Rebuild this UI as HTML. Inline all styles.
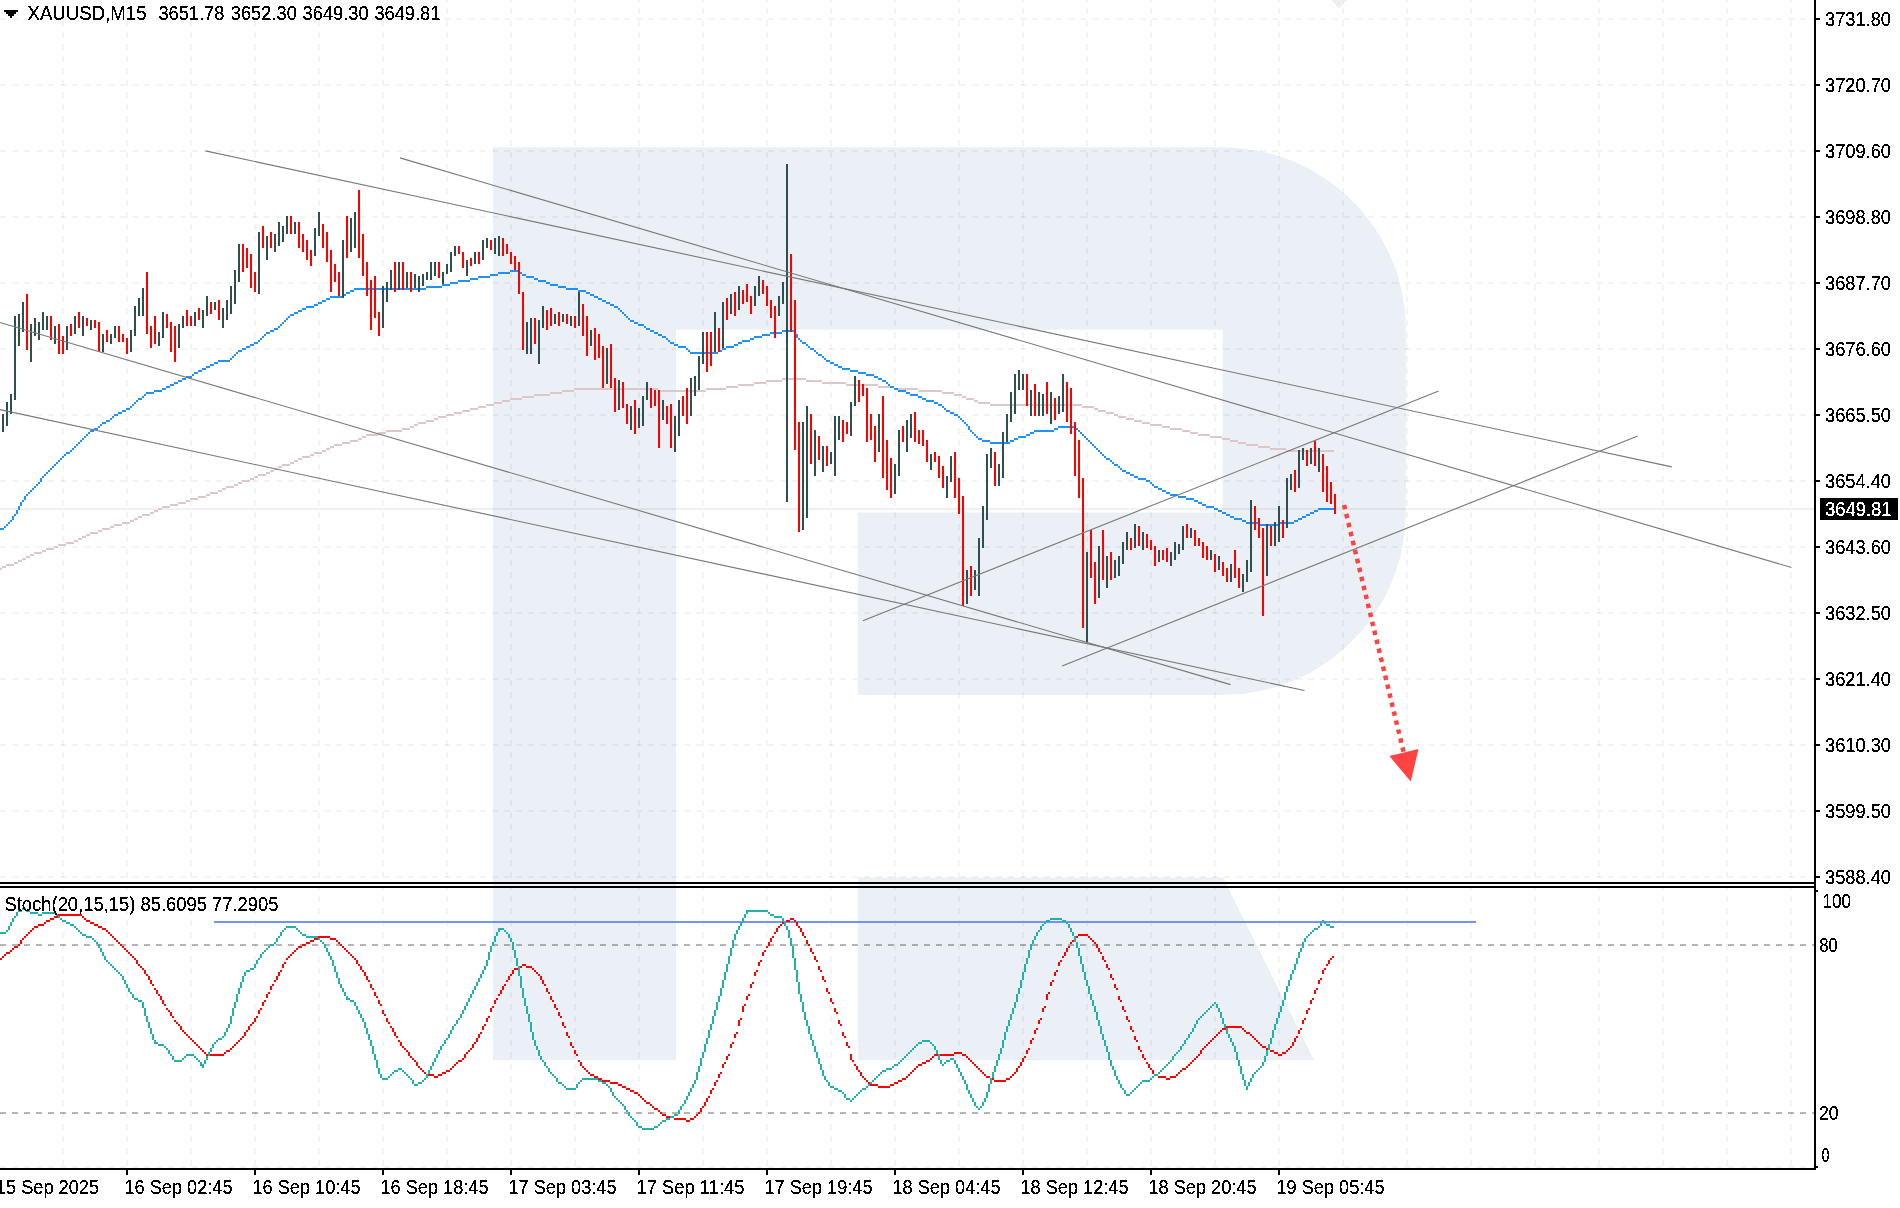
<!DOCTYPE html><html><head><meta charset="utf-8"><title>XAUUSD,M15</title><style>html,body{margin:0;padding:0;background:#fff;width:1900px;height:1208px;overflow:hidden}svg{display:block}</style></head><body>
<svg width="1900" height="1208" viewBox="0 0 1900 1208" shape-rendering="crispEdges">
<rect x="0" y="0" width="1900" height="1208" fill="#fff"/>
<defs><clipPath id="cm"><rect x="0" y="0" width="1814" height="882"/></clipPath><filter id="crisp" x="-5%" y="-20%" width="110%" height="140%"><feComponentTransfer><feFuncA type="discrete" tableValues="0 0 0 1 1 1 1 1"/></feComponentTransfer></filter><clipPath id="cs"><rect x="0" y="888" width="1814" height="280"/></clipPath></defs>
<path d="M493,147.2 H1222 A184,182.6 0 0 1 1406,329.8 V511 A184,184 0 0 1 1222,695 H858 V512.6 H1222.5 V329.8 H676 V1060.2 H493 Z M858,877.6 H1223 L1314,1060.2 H858 Z" fill="#ebf0f7" shape-rendering="geometricPrecision"/>
<g stroke="#000" stroke-opacity="0.045" stroke-width="2" stroke-dasharray="6 6"><line x1="63" y1="0" x2="63" y2="882" stroke-dashoffset="4"/><line x1="63" y1="888" x2="63" y2="1168" stroke-dashoffset="4"/><line x1="127" y1="0" x2="127" y2="882" stroke-dashoffset="4"/><line x1="127" y1="888" x2="127" y2="1168" stroke-dashoffset="4"/><line x1="191" y1="0" x2="191" y2="882" stroke-dashoffset="4"/><line x1="191" y1="888" x2="191" y2="1168" stroke-dashoffset="4"/><line x1="255" y1="0" x2="255" y2="882" stroke-dashoffset="4"/><line x1="255" y1="888" x2="255" y2="1168" stroke-dashoffset="4"/><line x1="319" y1="0" x2="319" y2="882" stroke-dashoffset="4"/><line x1="319" y1="888" x2="319" y2="1168" stroke-dashoffset="4"/><line x1="383" y1="0" x2="383" y2="882" stroke-dashoffset="4"/><line x1="383" y1="888" x2="383" y2="1168" stroke-dashoffset="4"/><line x1="447" y1="0" x2="447" y2="882" stroke-dashoffset="4"/><line x1="447" y1="888" x2="447" y2="1168" stroke-dashoffset="4"/><line x1="511" y1="0" x2="511" y2="882" stroke-dashoffset="4"/><line x1="511" y1="888" x2="511" y2="1168" stroke-dashoffset="4"/><line x1="575" y1="0" x2="575" y2="882" stroke-dashoffset="4"/><line x1="575" y1="888" x2="575" y2="1168" stroke-dashoffset="4"/><line x1="639" y1="0" x2="639" y2="882" stroke-dashoffset="4"/><line x1="639" y1="888" x2="639" y2="1168" stroke-dashoffset="4"/><line x1="703" y1="0" x2="703" y2="882" stroke-dashoffset="4"/><line x1="703" y1="888" x2="703" y2="1168" stroke-dashoffset="4"/><line x1="767" y1="0" x2="767" y2="882" stroke-dashoffset="4"/><line x1="767" y1="888" x2="767" y2="1168" stroke-dashoffset="4"/><line x1="831" y1="0" x2="831" y2="882" stroke-dashoffset="4"/><line x1="831" y1="888" x2="831" y2="1168" stroke-dashoffset="4"/><line x1="895" y1="0" x2="895" y2="882" stroke-dashoffset="4"/><line x1="895" y1="888" x2="895" y2="1168" stroke-dashoffset="4"/><line x1="959" y1="0" x2="959" y2="882" stroke-dashoffset="4"/><line x1="959" y1="888" x2="959" y2="1168" stroke-dashoffset="4"/><line x1="1023" y1="0" x2="1023" y2="882" stroke-dashoffset="4"/><line x1="1023" y1="888" x2="1023" y2="1168" stroke-dashoffset="4"/><line x1="1087" y1="0" x2="1087" y2="882" stroke-dashoffset="4"/><line x1="1087" y1="888" x2="1087" y2="1168" stroke-dashoffset="4"/><line x1="1151" y1="0" x2="1151" y2="882" stroke-dashoffset="4"/><line x1="1151" y1="888" x2="1151" y2="1168" stroke-dashoffset="4"/><line x1="1215" y1="0" x2="1215" y2="882" stroke-dashoffset="4"/><line x1="1215" y1="888" x2="1215" y2="1168" stroke-dashoffset="4"/><line x1="1279" y1="0" x2="1279" y2="882" stroke-dashoffset="4"/><line x1="1279" y1="888" x2="1279" y2="1168" stroke-dashoffset="4"/><line x1="1343" y1="0" x2="1343" y2="882" stroke-dashoffset="4"/><line x1="1343" y1="888" x2="1343" y2="1168" stroke-dashoffset="4"/><line x1="1407" y1="0" x2="1407" y2="882" stroke-dashoffset="4"/><line x1="1407" y1="888" x2="1407" y2="1168" stroke-dashoffset="4"/><line x1="1471" y1="0" x2="1471" y2="882" stroke-dashoffset="4"/><line x1="1471" y1="888" x2="1471" y2="1168" stroke-dashoffset="4"/><line x1="1535" y1="0" x2="1535" y2="882" stroke-dashoffset="4"/><line x1="1535" y1="888" x2="1535" y2="1168" stroke-dashoffset="4"/><line x1="1599" y1="0" x2="1599" y2="882" stroke-dashoffset="4"/><line x1="1599" y1="888" x2="1599" y2="1168" stroke-dashoffset="4"/><line x1="1663" y1="0" x2="1663" y2="882" stroke-dashoffset="4"/><line x1="1663" y1="888" x2="1663" y2="1168" stroke-dashoffset="4"/><line x1="1727" y1="0" x2="1727" y2="882" stroke-dashoffset="4"/><line x1="1727" y1="888" x2="1727" y2="1168" stroke-dashoffset="4"/><line x1="1791" y1="0" x2="1791" y2="882" stroke-dashoffset="4"/><line x1="1791" y1="888" x2="1791" y2="1168" stroke-dashoffset="4"/><line x1="0" y1="19" x2="1814" y2="19"/><line x1="0" y1="85" x2="1814" y2="85"/><line x1="0" y1="151" x2="1814" y2="151"/><line x1="0" y1="217" x2="1814" y2="217"/><line x1="0" y1="283" x2="1814" y2="283"/><line x1="0" y1="349" x2="1814" y2="349"/><line x1="0" y1="415" x2="1814" y2="415"/><line x1="0" y1="481" x2="1814" y2="481"/><line x1="0" y1="547" x2="1814" y2="547"/><line x1="0" y1="613" x2="1814" y2="613"/><line x1="0" y1="679" x2="1814" y2="679"/><line x1="0" y1="745" x2="1814" y2="745"/><line x1="0" y1="811" x2="1814" y2="811"/><line x1="0" y1="877" x2="1814" y2="877"/><line x1="0" y1="1167" x2="1814" y2="1167"/></g>
<g stroke="#000" stroke-opacity="0.29" stroke-width="2" stroke-dasharray="6 6"><line x1="0" y1="945" x2="1814" y2="945"/><line x1="0" y1="1113" x2="1814" y2="1113"/></g>
<line x1="0" y1="509" x2="1814" y2="509" stroke="#000" stroke-opacity="0.06" stroke-width="2"/>
<g clip-path="url(#cm)">
<path d="M-2,568h2v2h-2zM0,568h2v2h-2zM2,566h2v2h-2zM4,566h2v2h-2zM6,564h2v2h-2zM8,564h2v2h-2zM10,564h2v2h-2zM12,564h2v2h-2zM14,562h2v2h-2zM16,562h2v2h-2zM18,560h2v2h-2zM20,560h2v2h-2zM22,558h2v2h-2zM24,558h2v2h-2zM26,556h2v2h-2zM28,556h2v2h-2zM30,554h2v2h-2zM32,554h2v2h-2zM34,552h2v2h-2zM36,552h2v2h-2zM38,552h2v2h-2zM40,552h2v2h-2zM42,550h2v2h-2zM44,550h2v2h-2zM46,548h2v2h-2zM48,548h2v2h-2zM50,548h2v2h-2zM52,548h2v2h-2zM54,546h2v2h-2zM56,546h2v2h-2zM58,544h2v2h-2zM60,544h2v2h-2zM62,544h2v2h-2zM64,544h2v2h-2zM66,542h2v2h-2zM68,542h2v2h-2zM70,542h2v2h-2zM72,542h2v2h-2zM74,540h2v2h-2zM76,540h2v2h-2zM78,538h2v2h-2zM80,538h2v2h-2zM82,536h2v2h-2zM84,536h2v2h-2zM86,534h2v2h-2zM88,534h2v2h-2zM90,532h2v2h-2zM92,532h2v2h-2zM94,532h2v2h-2zM96,532h2v2h-2zM98,530h2v2h-2zM100,530h2v2h-2zM102,528h2v2h-2zM104,528h2v2h-2zM106,528h2v2h-2zM108,528h2v2h-2zM110,526h2v2h-2zM112,526h2v2h-2zM114,524h2v2h-2zM116,524h2v2h-2zM118,524h2v2h-2zM120,524h2v2h-2zM122,522h2v2h-2zM124,522h2v2h-2zM126,522h2v2h-2zM128,522h2v2h-2zM130,520h2v2h-2zM132,520h2v2h-2zM134,518h2v2h-2zM136,518h2v2h-2zM138,516h2v2h-2zM140,516h2v2h-2zM142,514h2v2h-2zM144,514h2v2h-2zM146,514h2v2h-2zM148,514h2v2h-2zM150,512h2v2h-2zM152,512h2v2h-2zM154,510h2v2h-2zM156,510h2v2h-2zM158,508h2v2h-2zM160,508h2v2h-2zM162,506h2v2h-2zM164,506h2v2h-2zM166,506h2v2h-2zM168,506h2v2h-2zM170,504h2v2h-2zM172,504h2v2h-2zM174,504h2v2h-2zM176,504h2v2h-2zM178,502h2v2h-2zM180,502h2v2h-2zM182,502h2v2h-2zM184,502h2v2h-2zM186,500h2v2h-2zM188,500h2v2h-2zM190,498h2v2h-2zM192,498h2v2h-2zM194,498h2v2h-2zM196,498h2v2h-2zM198,496h2v2h-2zM200,496h2v2h-2zM202,496h2v2h-2zM204,496h2v2h-2zM206,494h2v2h-2zM208,494h2v2h-2zM210,492h2v2h-2zM212,492h2v2h-2zM214,492h2v2h-2zM216,492h2v2h-2zM218,490h2v2h-2zM220,490h2v2h-2zM222,488h2v2h-2zM224,488h2v2h-2zM226,486h2v2h-2zM228,486h2v2h-2zM230,486h2v2h-2zM232,486h2v2h-2zM234,484h2v2h-2zM236,484h2v2h-2zM238,482h2v2h-2zM240,482h2v2h-2zM242,480h2v2h-2zM244,480h2v2h-2zM246,480h2v2h-2zM248,480h2v2h-2zM250,478h2v2h-2zM252,478h2v2h-2zM254,476h2v2h-2zM256,476h2v2h-2zM258,474h2v2h-2zM260,474h2v2h-2zM262,474h2v2h-2zM264,474h2v2h-2zM266,472h2v2h-2zM268,472h2v2h-2zM270,470h2v2h-2zM272,470h2v2h-2zM274,468h2v2h-2zM276,468h2v2h-2zM278,466h2v2h-2zM280,466h2v2h-2zM282,464h2v2h-2zM284,464h2v2h-2zM286,464h2v2h-2zM288,464h2v2h-2zM290,462h2v2h-2zM292,462h2v2h-2zM294,460h2v2h-2zM296,460h2v2h-2zM298,458h2v2h-2zM300,458h2v2h-2zM302,456h2v2h-2zM304,456h2v2h-2zM306,456h2v2h-2zM308,456h2v2h-2zM310,454h2v2h-2zM312,454h2v2h-2zM314,452h2v2h-2zM316,452h2v2h-2zM318,452h2v2h-2zM320,452h2v2h-2zM322,450h2v2h-2zM324,450h2v2h-2zM326,448h2v2h-2zM328,448h2v2h-2zM330,446h2v2h-2zM332,446h2v2h-2zM334,444h2v2h-2zM336,444h2v2h-2zM338,444h2v2h-2zM340,444h2v2h-2zM342,442h2v2h-2zM344,442h2v2h-2zM346,442h2v2h-2zM348,442h2v2h-2zM350,440h2v2h-2zM352,440h2v2h-2zM354,440h2v2h-2zM356,440h2v2h-2zM358,438h2v2h-2zM360,438h2v2h-2zM362,436h2v2h-2zM364,436h2v2h-2zM366,434h2v2h-2zM368,434h2v2h-2zM370,434h2v2h-2zM372,434h2v2h-2zM374,434h2v2h-2zM376,434h2v2h-2zM378,432h2v2h-2zM380,432h2v2h-2zM382,432h2v2h-2zM384,432h2v2h-2zM386,430h2v2h-2zM388,430h2v2h-2zM390,430h2v2h-2zM392,430h2v2h-2zM394,430h2v2h-2zM396,430h2v2h-2zM398,430h2v2h-2zM400,430h2v2h-2zM402,428h2v2h-2zM404,428h2v2h-2zM406,428h2v2h-2zM408,428h2v2h-2zM410,426h2v2h-2zM412,426h2v2h-2zM414,424h2v2h-2zM416,424h2v2h-2zM418,422h2v2h-2zM420,422h2v2h-2zM422,422h2v2h-2zM424,422h2v2h-2zM426,420h2v2h-2zM428,420h2v2h-2zM430,420h2v2h-2zM432,420h2v2h-2zM434,418h2v2h-2zM436,418h2v2h-2zM438,416h2v2h-2zM440,416h2v2h-2zM442,416h2v2h-2zM444,416h2v2h-2zM446,414h2v2h-2zM448,414h2v2h-2zM450,414h2v2h-2zM452,414h2v2h-2zM454,412h2v2h-2zM456,412h2v2h-2zM458,412h2v2h-2zM460,412h2v2h-2zM462,410h2v2h-2zM464,410h2v2h-2zM466,410h2v2h-2zM468,410h2v2h-2zM470,408h2v2h-2zM472,408h2v2h-2zM474,408h2v2h-2zM476,408h2v2h-2zM478,406h2v2h-2zM480,406h2v2h-2zM482,406h2v2h-2zM484,406h2v2h-2zM486,404h2v2h-2zM488,404h2v2h-2zM490,404h2v2h-2zM492,404h2v2h-2zM494,402h2v2h-2zM496,402h2v2h-2zM498,402h2v2h-2zM500,402h2v2h-2zM502,400h2v2h-2zM504,400h2v2h-2zM506,400h2v2h-2zM508,400h2v2h-2zM510,398h2v2h-2zM512,398h2v2h-2zM514,398h2v2h-2zM516,398h2v2h-2zM518,398h2v2h-2zM520,398h2v2h-2zM522,396h2v2h-2zM524,396h2v2h-2zM526,396h2v2h-2zM528,396h2v2h-2zM530,396h2v2h-2zM532,396h2v2h-2zM534,394h2v2h-2zM536,394h2v2h-2zM538,394h2v2h-2zM540,394h2v2h-2zM542,394h2v2h-2zM544,394h2v2h-2zM546,394h2v2h-2zM548,394h2v2h-2zM550,392h2v2h-2zM552,392h2v2h-2zM554,392h2v2h-2zM556,392h2v2h-2zM558,392h2v2h-2zM560,392h2v2h-2zM562,390h2v2h-2zM564,390h2v2h-2zM566,390h2v2h-2zM568,390h2v2h-2zM570,390h2v2h-2zM572,390h2v2h-2zM574,388h2v2h-2zM576,388h2v2h-2zM578,388h2v2h-2zM580,388h2v2h-2zM582,388h2v2h-2zM584,388h2v2h-2zM586,388h2v2h-2zM588,388h2v2h-2zM590,388h2v2h-2zM592,388h2v2h-2zM594,388h2v2h-2zM596,388h2v2h-2zM598,388h2v2h-2zM600,388h2v2h-2zM602,388h2v2h-2zM604,388h2v2h-2zM606,388h2v2h-2zM608,388h2v2h-2zM610,388h2v2h-2zM612,388h2v2h-2zM614,388h2v2h-2zM616,388h2v2h-2zM618,388h2v2h-2zM620,388h2v2h-2zM622,388h2v2h-2zM624,388h2v2h-2zM626,388h2v2h-2zM628,388h2v2h-2zM630,388h2v2h-2zM632,388h2v2h-2zM634,388h2v2h-2zM636,388h2v2h-2zM638,388h2v2h-2zM640,388h2v2h-2zM642,388h2v2h-2zM644,388h2v2h-2zM646,388h2v2h-2zM648,388h2v2h-2zM650,388h2v2h-2zM652,388h2v2h-2zM654,388h2v2h-2zM656,388h2v2h-2zM658,390h2v2h-2zM660,390h2v2h-2zM662,390h2v2h-2zM664,390h2v2h-2zM666,390h2v2h-2zM668,390h2v2h-2zM670,390h2v2h-2zM672,390h2v2h-2zM674,390h2v2h-2zM676,390h2v2h-2zM678,390h2v2h-2zM680,390h2v2h-2zM682,390h2v2h-2zM684,390h2v2h-2zM686,390h2v2h-2zM688,390h2v2h-2zM690,390h2v2h-2zM692,390h2v2h-2zM694,390h2v2h-2zM696,390h2v2h-2zM698,390h2v2h-2zM700,390h2v2h-2zM702,390h2v2h-2zM704,390h2v2h-2zM706,388h2v2h-2zM708,388h2v2h-2zM710,388h2v2h-2zM712,388h2v2h-2zM714,388h2v2h-2zM716,388h2v2h-2zM718,388h2v2h-2zM720,388h2v2h-2zM722,388h2v2h-2zM724,388h2v2h-2zM726,386h2v2h-2zM728,386h2v2h-2zM730,386h2v2h-2zM732,386h2v2h-2zM734,386h2v2h-2zM736,386h2v2h-2zM738,384h2v2h-2zM740,384h2v2h-2zM742,384h2v2h-2zM744,384h2v2h-2zM746,384h2v2h-2zM748,384h2v2h-2zM750,384h2v2h-2zM752,384h2v2h-2zM754,382h2v2h-2zM756,382h2v2h-2zM758,382h2v2h-2zM760,382h2v2h-2zM762,382h2v2h-2zM764,382h2v2h-2zM766,380h2v2h-2zM768,380h2v2h-2zM770,380h2v2h-2zM772,380h2v2h-2zM774,380h2v2h-2zM776,380h2v2h-2zM778,380h2v2h-2zM780,380h2v2h-2zM782,378h2v2h-2zM784,378h2v2h-2zM786,378h2v2h-2zM788,378h2v2h-2zM790,378h2v2h-2zM792,378h2v2h-2zM794,378h2v2h-2zM796,378h2v2h-2zM798,378h2v2h-2zM800,378h2v2h-2zM802,378h2v2h-2zM804,378h2v2h-2zM806,380h2v2h-2zM808,380h2v2h-2zM810,380h2v2h-2zM812,380h2v2h-2zM814,380h2v2h-2zM816,380h2v2h-2zM818,380h2v2h-2zM820,380h2v2h-2zM822,382h2v2h-2zM824,382h2v2h-2zM826,382h2v2h-2zM828,382h2v2h-2zM830,382h2v2h-2zM832,382h2v2h-2zM834,382h2v2h-2zM836,382h2v2h-2zM838,382h2v2h-2zM840,382h2v2h-2zM842,382h2v2h-2zM844,382h2v2h-2zM846,384h2v2h-2zM848,384h2v2h-2zM850,384h2v2h-2zM852,384h2v2h-2zM854,384h2v2h-2zM856,384h2v2h-2zM858,384h2v2h-2zM860,384h2v2h-2zM862,384h2v2h-2zM864,384h2v2h-2zM866,384h2v2h-2zM868,384h2v2h-2zM870,384h2v2h-2zM872,384h2v2h-2zM874,384h2v2h-2zM876,384h2v2h-2zM878,386h2v2h-2zM880,386h2v2h-2zM882,386h2v2h-2zM884,386h2v2h-2zM886,386h2v2h-2zM888,386h2v2h-2zM890,386h2v2h-2zM892,386h2v2h-2zM894,388h2v2h-2zM896,388h2v2h-2zM898,388h2v2h-2zM900,388h2v2h-2zM902,388h2v2h-2zM904,388h2v2h-2zM906,388h2v2h-2zM908,388h2v2h-2zM910,388h2v2h-2zM912,388h2v2h-2zM914,388h2v2h-2zM916,388h2v2h-2zM918,390h2v2h-2zM920,390h2v2h-2zM922,390h2v2h-2zM924,390h2v2h-2zM926,390h2v2h-2zM928,390h2v2h-2zM930,390h2v2h-2zM932,390h2v2h-2zM934,390h2v2h-2zM936,390h2v2h-2zM938,390h2v2h-2zM940,390h2v2h-2zM942,392h2v2h-2zM944,392h2v2h-2zM946,392h2v2h-2zM948,392h2v2h-2zM950,392h2v2h-2zM952,392h2v2h-2zM954,394h2v2h-2zM956,394h2v2h-2zM958,394h2v2h-2zM960,394h2v2h-2zM962,396h2v2h-2zM964,396h2v2h-2zM966,398h2v2h-2zM968,398h2v2h-2zM970,398h2v2h-2zM972,398h2v2h-2zM974,400h2v2h-2zM976,400h2v2h-2zM978,402h2v2h-2zM980,402h2v2h-2zM982,402h2v2h-2zM984,402h2v2h-2zM986,402h2v2h-2zM988,402h2v2h-2zM990,404h2v2h-2zM992,404h2v2h-2zM994,404h2v2h-2zM996,404h2v2h-2zM998,404h2v2h-2zM1000,404h2v2h-2zM1002,404h2v2h-2zM1004,404h2v2h-2zM1006,404h2v2h-2zM1008,404h2v2h-2zM1010,404h2v2h-2zM1012,404h2v2h-2zM1014,404h2v2h-2zM1016,404h2v2h-2zM1018,404h2v2h-2zM1020,404h2v2h-2zM1022,404h2v2h-2zM1024,404h2v2h-2zM1026,404h2v2h-2zM1028,404h2v2h-2zM1030,404h2v2h-2zM1032,404h2v2h-2zM1034,404h2v2h-2zM1036,404h2v2h-2zM1038,404h2v2h-2zM1040,404h2v2h-2zM1042,404h2v2h-2zM1044,404h2v2h-2zM1046,404h2v2h-2zM1048,404h2v2h-2zM1050,404h2v2h-2zM1052,404h2v2h-2zM1054,404h2v2h-2zM1056,404h2v2h-2zM1058,404h2v2h-2zM1060,404h2v2h-2zM1062,404h2v2h-2zM1064,404h2v2h-2zM1066,404h2v2h-2zM1068,404h2v2h-2zM1070,404h2v2h-2zM1072,404h2v2h-2zM1074,404h2v2h-2zM1076,404h2v2h-2zM1078,404h2v2h-2zM1080,404h2v2h-2zM1082,406h2v2h-2zM1084,406h2v2h-2zM1086,406h2v2h-2zM1088,406h2v2h-2zM1090,406h2v2h-2zM1092,406h2v2h-2zM1094,408h2v2h-2zM1096,408h2v2h-2zM1098,410h2v2h-2zM1100,410h2v2h-2zM1102,410h2v2h-2zM1104,410h2v2h-2zM1106,412h2v2h-2zM1108,412h2v2h-2zM1110,412h2v2h-2zM1112,412h2v2h-2zM1114,414h2v2h-2zM1116,414h2v2h-2zM1118,416h2v2h-2zM1120,416h2v2h-2zM1122,416h2v2h-2zM1124,416h2v2h-2zM1126,418h2v2h-2zM1128,418h2v2h-2zM1130,418h2v2h-2zM1132,418h2v2h-2zM1134,420h2v2h-2zM1136,420h2v2h-2zM1138,420h2v2h-2zM1140,420h2v2h-2zM1142,422h2v2h-2zM1144,422h2v2h-2zM1146,422h2v2h-2zM1148,422h2v2h-2zM1150,424h2v2h-2zM1152,424h2v2h-2zM1154,424h2v2h-2zM1156,424h2v2h-2zM1158,424h2v2h-2zM1160,424h2v2h-2zM1162,426h2v2h-2zM1164,426h2v2h-2zM1166,426h2v2h-2zM1168,426h2v2h-2zM1170,428h2v2h-2zM1172,428h2v2h-2zM1174,428h2v2h-2zM1176,428h2v2h-2zM1178,428h2v2h-2zM1180,428h2v2h-2zM1182,430h2v2h-2zM1184,430h2v2h-2zM1186,430h2v2h-2zM1188,430h2v2h-2zM1190,432h2v2h-2zM1192,432h2v2h-2zM1194,432h2v2h-2zM1196,432h2v2h-2zM1198,434h2v2h-2zM1200,434h2v2h-2zM1202,434h2v2h-2zM1204,434h2v2h-2zM1206,434h2v2h-2zM1208,434h2v2h-2zM1210,436h2v2h-2zM1212,436h2v2h-2zM1214,436h2v2h-2zM1216,436h2v2h-2zM1218,436h2v2h-2zM1220,436h2v2h-2zM1222,438h2v2h-2zM1224,438h2v2h-2zM1226,438h2v2h-2zM1228,438h2v2h-2zM1230,440h2v2h-2zM1232,440h2v2h-2zM1234,440h2v2h-2zM1236,440h2v2h-2zM1238,442h2v2h-2zM1240,442h2v2h-2zM1242,442h2v2h-2zM1244,442h2v2h-2zM1246,444h2v2h-2zM1248,444h2v2h-2zM1250,444h2v2h-2zM1252,444h2v2h-2zM1254,444h2v2h-2zM1256,444h2v2h-2zM1258,446h2v2h-2zM1260,446h2v2h-2zM1262,446h2v2h-2zM1264,446h2v2h-2zM1266,446h2v2h-2zM1268,446h2v2h-2zM1270,448h2v2h-2zM1272,448h2v2h-2zM1274,448h2v2h-2zM1276,448h2v2h-2zM1278,448h2v2h-2zM1280,448h2v2h-2zM1282,448h2v2h-2zM1284,448h2v2h-2zM1286,450h2v2h-2zM1288,450h2v2h-2zM1290,450h2v2h-2zM1292,450h2v2h-2zM1294,450h2v2h-2zM1296,450h2v2h-2zM1298,450h2v2h-2zM1300,450h2v2h-2zM1302,450h2v2h-2zM1304,450h2v2h-2zM1306,450h2v2h-2zM1308,450h2v2h-2zM1310,450h2v2h-2zM1312,450h2v2h-2zM1314,450h2v2h-2zM1316,450h2v2h-2zM1318,450h2v2h-2zM1320,450h2v2h-2zM1322,450h2v2h-2zM1324,450h2v2h-2zM1326,450h2v2h-2zM1328,450h2v2h-2zM1330,450h2v2h-2zM1332,450h2v2h-2z" fill="#dcc8c8"/>
<path d="M-2,528h2v2h-2zM0,528h2v2h-2zM2,528h2v2h-2zM4,526h2v2h-2zM6,524h2v2h-2zM8,522h2v2h-2zM10,520h2v2h-2zM12,516h2v4h-2zM14,514h2v2h-2zM16,510h2v4h-2zM18,506h2v4h-2zM20,502h2v4h-2zM22,500h2v2h-2zM24,496h2v4h-2zM26,494h2v2h-2zM28,492h2v2h-2zM30,490h2v2h-2zM32,488h2v2h-2zM34,486h2v2h-2zM36,484h2v2h-2zM38,482h2v2h-2zM40,478h2v4h-2zM42,476h2v2h-2zM44,474h2v2h-2zM46,472h2v2h-2zM48,470h2v2h-2zM50,468h2v2h-2zM52,466h2v2h-2zM54,464h2v2h-2zM56,462h2v2h-2zM58,460h2v2h-2zM60,458h2v2h-2zM62,456h2v2h-2zM64,454h2v2h-2zM66,452h2v2h-2zM68,452h2v2h-2zM70,450h2v2h-2zM72,448h2v2h-2zM74,446h2v2h-2zM76,444h2v2h-2zM78,442h2v2h-2zM80,440h2v2h-2zM82,438h2v2h-2zM84,436h2v2h-2zM86,434h2v2h-2zM88,432h2v2h-2zM90,430h2v2h-2zM92,430h2v2h-2zM94,428h2v2h-2zM96,428h2v2h-2zM98,426h2v2h-2zM100,424h2v2h-2zM102,422h2v2h-2zM104,422h2v2h-2zM106,420h2v2h-2zM108,420h2v2h-2zM110,418h2v2h-2zM112,416h2v2h-2zM114,414h2v2h-2zM116,414h2v2h-2zM118,412h2v2h-2zM120,412h2v2h-2zM122,410h2v2h-2zM124,410h2v2h-2zM126,408h2v2h-2zM128,408h2v2h-2zM130,406h2v2h-2zM132,404h2v2h-2zM134,402h2v2h-2zM136,400h2v2h-2zM138,398h2v2h-2zM140,398h2v2h-2zM142,396h2v2h-2zM144,394h2v2h-2zM146,392h2v2h-2zM148,392h2v2h-2zM150,392h2v2h-2zM152,392h2v2h-2zM154,390h2v2h-2zM156,390h2v2h-2zM158,390h2v2h-2zM160,390h2v2h-2zM162,388h2v2h-2zM164,388h2v2h-2zM166,386h2v2h-2zM168,386h2v2h-2zM170,384h2v2h-2zM172,384h2v2h-2zM174,382h2v2h-2zM176,382h2v2h-2zM178,380h2v2h-2zM180,380h2v2h-2zM182,378h2v2h-2zM184,378h2v2h-2zM186,376h2v2h-2zM188,376h2v2h-2zM190,376h2v2h-2zM192,374h2v2h-2zM194,372h2v2h-2zM196,372h2v2h-2zM198,370h2v2h-2zM200,370h2v2h-2zM202,368h2v2h-2zM204,368h2v2h-2zM206,366h2v2h-2zM208,366h2v2h-2zM210,364h2v2h-2zM212,364h2v2h-2zM214,362h2v2h-2zM216,362h2v2h-2zM218,360h2v2h-2zM220,360h2v2h-2zM222,360h2v2h-2zM224,360h2v2h-2zM226,360h2v2h-2zM228,360h2v2h-2zM230,358h2v2h-2zM232,356h2v2h-2zM234,354h2v2h-2zM236,352h2v2h-2zM238,350h2v2h-2zM240,350h2v2h-2zM242,348h2v2h-2zM244,348h2v2h-2zM246,346h2v2h-2zM248,346h2v2h-2zM250,344h2v2h-2zM252,344h2v2h-2zM254,342h2v2h-2zM256,342h2v2h-2zM258,340h2v2h-2zM260,338h2v2h-2zM262,336h2v2h-2zM264,334h2v2h-2zM266,332h2v2h-2zM268,332h2v2h-2zM270,330h2v2h-2zM272,330h2v2h-2zM274,328h2v2h-2zM276,328h2v2h-2zM278,326h2v2h-2zM280,324h2v2h-2zM282,322h2v2h-2zM284,320h2v2h-2zM286,318h2v2h-2zM288,316h2v2h-2zM290,314h2v2h-2zM292,314h2v2h-2zM294,312h2v2h-2zM296,312h2v2h-2zM298,310h2v2h-2zM300,310h2v2h-2zM302,308h2v2h-2zM304,308h2v2h-2zM306,306h2v2h-2zM308,306h2v2h-2zM310,306h2v2h-2zM312,306h2v2h-2zM314,304h2v2h-2zM316,304h2v2h-2zM318,302h2v2h-2zM320,302h2v2h-2zM322,300h2v2h-2zM324,300h2v2h-2zM326,298h2v2h-2zM328,298h2v2h-2zM330,296h2v2h-2zM332,296h2v2h-2zM334,296h2v2h-2zM336,296h2v2h-2zM338,296h2v2h-2zM340,296h2v2h-2zM342,294h2v2h-2zM344,294h2v2h-2zM346,292h2v2h-2zM348,292h2v2h-2zM350,290h2v2h-2zM352,290h2v2h-2zM354,288h2v2h-2zM356,288h2v2h-2zM358,288h2v2h-2zM360,288h2v2h-2zM362,288h2v2h-2zM364,288h2v2h-2zM366,288h2v2h-2zM368,288h2v2h-2zM370,288h2v2h-2zM372,288h2v2h-2zM374,288h2v2h-2zM376,288h2v2h-2zM378,288h2v2h-2zM380,288h2v2h-2zM382,288h2v2h-2zM384,288h2v2h-2zM386,288h2v2h-2zM388,288h2v2h-2zM390,288h2v2h-2zM392,288h2v2h-2zM394,288h2v2h-2zM396,288h2v2h-2zM398,288h2v2h-2zM400,288h2v2h-2zM402,288h2v2h-2zM404,288h2v2h-2zM406,288h2v2h-2zM408,288h2v2h-2zM410,288h2v2h-2zM412,288h2v2h-2zM414,288h2v2h-2zM416,288h2v2h-2zM418,288h2v2h-2zM420,288h2v2h-2zM422,288h2v2h-2zM424,288h2v2h-2zM426,286h2v2h-2zM428,286h2v2h-2zM430,286h2v2h-2zM432,286h2v2h-2zM434,286h2v2h-2zM436,286h2v2h-2zM438,286h2v2h-2zM440,286h2v2h-2zM442,284h2v2h-2zM444,284h2v2h-2zM446,284h2v2h-2zM448,284h2v2h-2zM450,282h2v2h-2zM452,282h2v2h-2zM454,282h2v2h-2zM456,282h2v2h-2zM458,280h2v2h-2zM460,280h2v2h-2zM462,280h2v2h-2zM464,280h2v2h-2zM466,280h2v2h-2zM468,280h2v2h-2zM470,278h2v2h-2zM472,278h2v2h-2zM474,278h2v2h-2zM476,278h2v2h-2zM478,276h2v2h-2zM480,276h2v2h-2zM482,276h2v2h-2zM484,276h2v2h-2zM486,276h2v2h-2zM488,276h2v2h-2zM490,274h2v2h-2zM492,274h2v2h-2zM494,274h2v2h-2zM496,274h2v2h-2zM498,272h2v2h-2zM500,272h2v2h-2zM502,272h2v2h-2zM504,272h2v2h-2zM506,272h2v2h-2zM508,272h2v2h-2zM510,270h2v2h-2zM512,270h2v2h-2zM514,270h2v2h-2zM516,270h2v2h-2zM518,272h2v2h-2zM520,272h2v2h-2zM522,274h2v2h-2zM524,274h2v2h-2zM526,276h2v2h-2zM528,276h2v2h-2zM530,276h2v2h-2zM532,276h2v2h-2zM534,278h2v2h-2zM536,278h2v2h-2zM538,280h2v2h-2zM540,280h2v2h-2zM542,280h2v2h-2zM544,280h2v2h-2zM546,282h2v2h-2zM548,282h2v2h-2zM550,284h2v2h-2zM552,284h2v2h-2zM554,284h2v2h-2zM556,284h2v2h-2zM558,286h2v2h-2zM560,286h2v2h-2zM562,286h2v2h-2zM564,286h2v2h-2zM566,288h2v2h-2zM568,288h2v2h-2zM570,288h2v2h-2zM572,288h2v2h-2zM574,288h2v2h-2zM576,288h2v2h-2zM578,290h2v2h-2zM580,290h2v2h-2zM582,290h2v2h-2zM584,290h2v2h-2zM586,292h2v2h-2zM588,292h2v2h-2zM590,294h2v2h-2zM592,294h2v2h-2zM594,296h2v2h-2zM596,296h2v2h-2zM598,298h2v2h-2zM600,298h2v2h-2zM602,300h2v2h-2zM604,300h2v2h-2zM606,302h2v2h-2zM608,302h2v2h-2zM610,304h2v2h-2zM612,304h2v2h-2zM614,306h2v2h-2zM616,306h2v2h-2zM618,308h2v2h-2zM620,310h2v2h-2zM622,312h2v2h-2zM624,314h2v2h-2zM626,316h2v2h-2zM628,318h2v2h-2zM630,320h2v2h-2zM632,320h2v2h-2zM634,322h2v2h-2zM636,322h2v2h-2zM638,324h2v2h-2zM640,324h2v2h-2zM642,324h2v2h-2zM644,326h2v2h-2zM646,328h2v2h-2zM648,328h2v2h-2zM650,330h2v2h-2zM652,330h2v2h-2zM654,332h2v2h-2zM656,332h2v2h-2zM658,334h2v2h-2zM660,334h2v2h-2zM662,336h2v2h-2zM664,336h2v2h-2zM666,338h2v2h-2zM668,340h2v2h-2zM670,342h2v2h-2zM672,342h2v2h-2zM674,344h2v2h-2zM676,344h2v2h-2zM678,346h2v2h-2zM680,346h2v2h-2zM682,346h2v2h-2zM684,346h2v2h-2zM686,348h2v2h-2zM688,350h2v2h-2zM690,352h2v2h-2zM692,352h2v2h-2zM694,352h2v2h-2zM696,352h2v2h-2zM698,352h2v2h-2zM700,352h2v2h-2zM702,352h2v2h-2zM704,352h2v2h-2zM706,352h2v2h-2zM708,352h2v2h-2zM710,352h2v2h-2zM712,352h2v2h-2zM714,352h2v2h-2zM716,352h2v2h-2zM718,350h2v2h-2zM720,350h2v2h-2zM722,348h2v2h-2zM724,348h2v2h-2zM726,346h2v2h-2zM728,346h2v2h-2zM730,346h2v2h-2zM732,346h2v2h-2zM734,344h2v2h-2zM736,344h2v2h-2zM738,342h2v2h-2zM740,342h2v2h-2zM742,340h2v2h-2zM744,340h2v2h-2zM746,340h2v2h-2zM748,340h2v2h-2zM750,338h2v2h-2zM752,338h2v2h-2zM754,336h2v2h-2zM756,336h2v2h-2zM758,336h2v2h-2zM760,336h2v2h-2zM762,334h2v2h-2zM764,334h2v2h-2zM766,334h2v2h-2zM768,334h2v2h-2zM770,332h2v2h-2zM772,332h2v2h-2zM774,332h2v2h-2zM776,332h2v2h-2zM778,332h2v2h-2zM780,332h2v2h-2zM782,330h2v2h-2zM784,330h2v2h-2zM786,330h2v2h-2zM788,330h2v2h-2zM790,330h2v2h-2zM792,330h2v2h-2zM794,332h2v2h-2zM796,334h2v4h-2zM798,338h2v2h-2zM800,340h2v2h-2zM802,342h2v2h-2zM804,342h2v2h-2zM806,344h2v2h-2zM808,346h2v2h-2zM810,348h2v2h-2zM812,348h2v2h-2zM814,350h2v2h-2zM816,352h2v2h-2zM818,354h2v2h-2zM820,354h2v2h-2zM822,356h2v2h-2zM824,358h2v2h-2zM826,360h2v2h-2zM828,360h2v2h-2zM830,362h2v2h-2zM832,362h2v2h-2zM834,364h2v2h-2zM836,364h2v2h-2zM838,366h2v2h-2zM840,366h2v2h-2zM842,368h2v2h-2zM844,368h2v2h-2zM846,368h2v2h-2zM848,368h2v2h-2zM850,370h2v2h-2zM852,370h2v2h-2zM854,370h2v2h-2zM856,370h2v2h-2zM858,372h2v2h-2zM860,372h2v2h-2zM862,372h2v2h-2zM864,372h2v2h-2zM866,374h2v2h-2zM868,374h2v2h-2zM870,374h2v2h-2zM872,374h2v2h-2zM874,376h2v2h-2zM876,376h2v2h-2zM878,378h2v2h-2zM880,378h2v2h-2zM882,380h2v2h-2zM884,380h2v2h-2zM886,382h2v2h-2zM888,384h2v2h-2zM890,386h2v2h-2zM892,386h2v2h-2zM894,388h2v2h-2zM896,388h2v2h-2zM898,390h2v2h-2zM900,390h2v2h-2zM902,390h2v2h-2zM904,390h2v2h-2zM906,392h2v2h-2zM908,392h2v2h-2zM910,394h2v2h-2zM912,394h2v2h-2zM914,394h2v2h-2zM916,394h2v2h-2zM918,396h2v2h-2zM920,396h2v2h-2zM922,398h2v2h-2zM924,398h2v2h-2zM926,400h2v2h-2zM928,400h2v2h-2zM930,400h2v2h-2zM932,400h2v2h-2zM934,402h2v2h-2zM936,402h2v2h-2zM938,404h2v2h-2zM940,404h2v2h-2zM942,406h2v2h-2zM944,408h2v2h-2zM946,410h2v2h-2zM948,410h2v2h-2zM950,412h2v2h-2zM952,412h2v2h-2zM954,414h2v2h-2zM956,414h2v2h-2zM958,416h2v2h-2zM960,418h2v2h-2zM962,420h2v2h-2zM964,422h2v2h-2zM966,424h2v2h-2zM968,426h2v4h-2zM970,430h2v2h-2zM972,432h2v2h-2zM974,434h2v2h-2zM976,436h2v2h-2zM978,438h2v2h-2zM980,438h2v2h-2zM982,440h2v2h-2zM984,440h2v2h-2zM986,440h2v2h-2zM988,440h2v2h-2zM990,442h2v2h-2zM992,442h2v2h-2zM994,442h2v2h-2zM996,442h2v2h-2zM998,442h2v2h-2zM1000,442h2v2h-2zM1002,442h2v2h-2zM1004,442h2v2h-2zM1006,442h2v2h-2zM1008,442h2v2h-2zM1010,440h2v2h-2zM1012,440h2v2h-2zM1014,438h2v2h-2zM1016,438h2v2h-2zM1018,436h2v2h-2zM1020,436h2v2h-2zM1022,436h2v2h-2zM1024,436h2v2h-2zM1026,434h2v2h-2zM1028,434h2v2h-2zM1030,432h2v2h-2zM1032,432h2v2h-2zM1034,430h2v2h-2zM1036,430h2v2h-2zM1038,430h2v2h-2zM1040,430h2v2h-2zM1042,430h2v2h-2zM1044,430h2v2h-2zM1046,430h2v2h-2zM1048,430h2v2h-2zM1050,430h2v2h-2zM1052,430h2v2h-2zM1054,428h2v2h-2zM1056,428h2v2h-2zM1058,426h2v2h-2zM1060,426h2v2h-2zM1062,426h2v2h-2zM1064,426h2v2h-2zM1066,426h2v2h-2zM1068,426h2v2h-2zM1070,426h2v2h-2zM1072,426h2v2h-2zM1074,426h2v2h-2zM1076,428h2v2h-2zM1078,430h2v2h-2zM1080,432h2v2h-2zM1082,434h2v2h-2zM1084,436h2v2h-2zM1086,438h2v2h-2zM1088,440h2v2h-2zM1090,442h2v2h-2zM1092,444h2v2h-2zM1094,446h2v2h-2zM1096,448h2v2h-2zM1098,450h2v2h-2zM1100,452h2v2h-2zM1102,454h2v2h-2zM1104,456h2v2h-2zM1106,458h2v2h-2zM1108,458h2v2h-2zM1110,460h2v2h-2zM1112,462h2v2h-2zM1114,464h2v2h-2zM1116,464h2v2h-2zM1118,466h2v2h-2zM1120,468h2v2h-2zM1122,470h2v2h-2zM1124,470h2v2h-2zM1126,472h2v2h-2zM1128,472h2v2h-2zM1130,474h2v2h-2zM1132,474h2v2h-2zM1134,476h2v2h-2zM1136,476h2v2h-2zM1138,478h2v2h-2zM1140,478h2v2h-2zM1142,478h2v2h-2zM1144,478h2v2h-2zM1146,480h2v2h-2zM1148,480h2v2h-2zM1150,482h2v2h-2zM1152,484h2v2h-2zM1154,486h2v2h-2zM1156,486h2v2h-2zM1158,488h2v2h-2zM1160,488h2v2h-2zM1162,490h2v2h-2zM1164,490h2v2h-2zM1166,492h2v2h-2zM1168,492h2v2h-2zM1170,494h2v2h-2zM1172,494h2v2h-2zM1174,494h2v2h-2zM1176,494h2v2h-2zM1178,496h2v2h-2zM1180,496h2v2h-2zM1182,496h2v2h-2zM1184,496h2v2h-2zM1186,498h2v2h-2zM1188,498h2v2h-2zM1190,498h2v2h-2zM1192,498h2v2h-2zM1194,500h2v2h-2zM1196,500h2v2h-2zM1198,502h2v2h-2zM1200,502h2v2h-2zM1202,504h2v2h-2zM1204,504h2v2h-2zM1206,506h2v2h-2zM1208,506h2v2h-2zM1210,506h2v2h-2zM1212,506h2v2h-2zM1214,508h2v2h-2zM1216,508h2v2h-2zM1218,510h2v2h-2zM1220,510h2v2h-2zM1222,512h2v2h-2zM1224,512h2v2h-2zM1226,514h2v2h-2zM1228,514h2v2h-2zM1230,516h2v2h-2zM1232,516h2v2h-2zM1234,518h2v2h-2zM1236,518h2v2h-2zM1238,518h2v2h-2zM1240,518h2v2h-2zM1242,520h2v2h-2zM1244,520h2v2h-2zM1246,522h2v2h-2zM1248,522h2v2h-2zM1250,522h2v2h-2zM1252,522h2v2h-2zM1254,522h2v2h-2zM1256,522h2v2h-2zM1258,524h2v2h-2zM1260,524h2v2h-2zM1262,524h2v2h-2zM1264,524h2v2h-2zM1266,524h2v2h-2zM1268,524h2v2h-2zM1270,524h2v2h-2zM1272,524h2v2h-2zM1274,524h2v2h-2zM1276,524h2v2h-2zM1278,522h2v2h-2zM1280,522h2v2h-2zM1282,522h2v2h-2zM1284,522h2v2h-2zM1286,522h2v2h-2zM1288,522h2v2h-2zM1290,522h2v2h-2zM1292,522h2v2h-2zM1294,520h2v2h-2zM1296,520h2v2h-2zM1298,518h2v2h-2zM1300,518h2v2h-2zM1302,516h2v2h-2zM1304,516h2v2h-2zM1306,514h2v2h-2zM1308,514h2v2h-2zM1310,512h2v2h-2zM1312,512h2v2h-2zM1314,510h2v2h-2zM1316,510h2v2h-2zM1318,508h2v2h-2zM1320,508h2v2h-2zM1322,508h2v2h-2zM1324,508h2v2h-2zM1326,508h2v2h-2zM1328,508h2v2h-2zM1330,508h2v2h-2zM1332,508h2v2h-2z" fill="#1e90ff"/>
</g>
<path d="M2,414h2v18h-2zM6,402h2v24h-2zM10,394h2v20h-2zM14,316h2v84h-2zM18,314h2v32h-2zM22,302h2v30h-2zM30,324h2v38h-2zM34,318h2v18h-2zM38,322h2v18h-2zM42,312h2v18h-2zM46,316h2v14h-2zM54,326h2v18h-2zM66,326h2v24h-2zM74,316h2v18h-2zM82,316h2v20h-2zM90,320h2v10h-2zM102,334h2v18h-2zM110,334h2v10h-2zM114,326h2v12h-2zM130,330h2v22h-2zM134,306h2v30h-2zM138,298h2v18h-2zM142,288h2v28h-2zM158,332h2v14h-2zM162,312h2v26h-2zM178,324h2v24h-2zM182,316h2v12h-2zM194,312h2v14h-2zM202,310h2v18h-2zM206,296h2v20h-2zM214,302h2v8h-2zM222,308h2v20h-2zM226,300h2v20h-2zM230,286h2v28h-2zM234,270h2v34h-2zM238,244h2v38h-2zM258,232h2v62h-2zM266,236h2v24h-2zM274,234h2v18h-2zM278,222h2v24h-2zM282,226h2v16h-2zM286,216h2v18h-2zM294,222h2v12h-2zM314,228h2v28h-2zM318,212h2v24h-2zM342,240h2v58h-2zM350,218h2v34h-2zM354,212h2v36h-2zM382,286h2v42h-2zM386,282h2v20h-2zM390,270h2v20h-2zM398,262h2v28h-2zM406,272h2v16h-2zM414,274h2v14h-2zM418,276h2v16h-2zM422,274h2v12h-2zM426,272h2v8h-2zM430,262h2v18h-2zM434,262h2v14h-2zM442,272h2v12h-2zM446,264h2v10h-2zM450,252h2v20h-2zM454,246h2v10h-2zM466,260h2v16h-2zM474,252h2v12h-2zM482,240h2v20h-2zM486,238h2v10h-2zM494,238h2v16h-2zM498,236h2v20h-2zM526,322h2v32h-2zM530,318h2v36h-2zM538,320h2v44h-2zM542,306h2v22h-2zM554,314h2v10h-2zM562,314h2v8h-2zM570,316h2v10h-2zM578,292h2v34h-2zM590,330h2v16h-2zM606,348h2v36h-2zM618,380h2v30h-2zM630,406h2v24h-2zM638,408h2v20h-2zM642,396h2v30h-2zM646,382h2v18h-2zM662,400h2v20h-2zM674,416h2v36h-2zM678,400h2v36h-2zM690,378h2v38h-2zM694,376h2v20h-2zM698,356h2v34h-2zM702,332h2v32h-2zM714,312h2v40h-2zM722,302h2v46h-2zM730,294h2v20h-2zM738,286h2v24h-2zM754,286h2v20h-2zM758,276h2v20h-2zM778,296h2v20h-2zM782,282h2v22h-2zM786,164h2v338h-2zM802,422h2v108h-2zM806,406h2v112h-2zM814,430h2v46h-2zM822,446h2v26h-2zM830,452h2v12h-2zM834,416h2v60h-2zM838,416h2v24h-2zM850,402h2v34h-2zM854,376h2v30h-2zM878,414h2v38h-2zM894,464h2v30h-2zM898,430h2v46h-2zM906,420h2v32h-2zM910,414h2v24h-2zM930,454h2v16h-2zM946,476h2v22h-2zM950,456h2v26h-2zM966,570h2v34h-2zM974,570h2v20h-2zM978,538h2v58h-2zM982,506h2v42h-2zM986,454h2v66h-2zM990,448h2v20h-2zM998,464h2v22h-2zM1002,432h2v46h-2zM1006,414h2v28h-2zM1010,392h2v30h-2zM1014,374h2v40h-2zM1018,370h2v20h-2zM1022,374h2v16h-2zM1030,390h2v26h-2zM1038,392h2v24h-2zM1042,394h2v22h-2zM1050,392h2v32h-2zM1058,396h2v18h-2zM1062,374h2v38h-2zM1086,552h2v90h-2zM1098,546h2v52h-2zM1106,556h2v32h-2zM1114,560h2v18h-2zM1118,556h2v20h-2zM1122,542h2v22h-2zM1126,532h2v18h-2zM1134,524h2v24h-2zM1142,532h2v18h-2zM1158,550h2v12h-2zM1170,552h2v14h-2zM1174,542h2v18h-2zM1178,544h2v10h-2zM1182,526h2v24h-2zM1190,528h2v10h-2zM1210,550h2v10h-2zM1218,556h2v14h-2zM1230,564h2v18h-2zM1242,574h2v18h-2zM1246,560h2v22h-2zM1250,500h2v72h-2zM1266,524h2v52h-2zM1274,522h2v24h-2zM1278,506h2v36h-2zM1286,478h2v50h-2zM1290,474h2v16h-2zM1298,450h2v38h-2zM1302,448h2v12h-2zM1310,448h2v16h-2zM1318,448h2v24h-2z" fill="#2f4f4f"/>
<path d="M26,294h2v56h-2zM50,316h2v24h-2zM58,324h2v30h-2zM62,336h2v18h-2zM70,324h2v12h-2zM78,312h2v16h-2zM86,318h2v8h-2zM94,320h2v8h-2zM98,322h2v30h-2zM106,330h2v12h-2zM118,326h2v16h-2zM122,334h2v8h-2zM126,338h2v16h-2zM146,272h2v62h-2zM150,326h2v22h-2zM154,316h2v28h-2zM166,314h2v14h-2zM170,322h2v30h-2zM174,326h2v36h-2zM186,310h2v16h-2zM190,316h2v10h-2zM198,308h2v12h-2zM210,302h2v12h-2zM218,300h2v20h-2zM242,244h2v28h-2zM246,248h2v20h-2zM250,254h2v34h-2zM254,272h2v20h-2zM262,226h2v22h-2zM270,232h2v16h-2zM290,216h2v18h-2zM298,222h2v26h-2zM302,234h2v18h-2zM306,240h2v20h-2zM310,250h2v16h-2zM322,224h2v24h-2zM326,232h2v30h-2zM330,250h2v42h-2zM334,264h2v18h-2zM338,272h2v24h-2zM346,216h2v42h-2zM358,190h2v68h-2zM362,234h2v42h-2zM366,262h2v34h-2zM370,280h2v50h-2zM374,276h2v42h-2zM378,312h2v24h-2zM394,262h2v30h-2zM402,262h2v28h-2zM410,272h2v20h-2zM438,262h2v16h-2zM458,246h2v8h-2zM462,252h2v16h-2zM470,258h2v8h-2zM478,252h2v12h-2zM490,240h2v10h-2zM502,238h2v18h-2zM506,244h2v10h-2zM510,252h2v12h-2zM514,256h2v14h-2zM518,262h2v32h-2zM522,292h2v58h-2zM534,318h2v26h-2zM546,310h2v20h-2zM550,308h2v18h-2zM558,312h2v14h-2zM566,314h2v10h-2zM574,316h2v12h-2zM582,304h2v32h-2zM586,316h2v40h-2zM594,328h2v32h-2zM598,334h2v24h-2zM602,346h2v42h-2zM610,344h2v44h-2zM614,378h2v34h-2zM622,382h2v26h-2zM626,404h2v20h-2zM634,400h2v34h-2zM650,388h2v20h-2zM654,390h2v16h-2zM658,390h2v58h-2zM666,406h2v18h-2zM670,404h2v44h-2zM682,396h2v20h-2zM686,388h2v36h-2zM706,332h2v40h-2zM710,332h2v34h-2zM718,328h2v24h-2zM726,298h2v22h-2zM734,292h2v24h-2zM742,290h2v14h-2zM746,284h2v18h-2zM750,296h2v18h-2zM762,280h2v14h-2zM766,286h2v20h-2zM770,300h2v18h-2zM774,306h2v32h-2zM790,254h2v78h-2zM794,300h2v150h-2zM798,422h2v110h-2zM810,414h2v50h-2zM818,436h2v24h-2zM826,446h2v20h-2zM842,420h2v22h-2zM846,422h2v12h-2zM858,380h2v22h-2zM862,384h2v12h-2zM866,388h2v54h-2zM870,414h2v26h-2zM874,426h2v36h-2zM882,396h2v82h-2zM886,440h2v50h-2zM890,458h2v40h-2zM902,426h2v16h-2zM914,412h2v30h-2zM918,430h2v14h-2zM922,430h2v16h-2zM926,440h2v22h-2zM934,452h2v10h-2zM938,456h2v22h-2zM942,466h2v22h-2zM954,452h2v46h-2zM958,478h2v36h-2zM962,496h2v110h-2zM970,566h2v30h-2zM994,452h2v34h-2zM1026,374h2v32h-2zM1034,384h2v32h-2zM1046,382h2v32h-2zM1054,398h2v22h-2zM1066,382h2v40h-2zM1070,388h2v46h-2zM1074,422h2v54h-2zM1078,440h2v58h-2zM1082,478h2v150h-2zM1090,530h2v48h-2zM1094,562h2v42h-2zM1102,530h2v50h-2zM1110,552h2v28h-2zM1130,538h2v12h-2zM1138,526h2v20h-2zM1146,534h2v14h-2zM1150,540h2v10h-2zM1154,546h2v20h-2zM1162,550h2v10h-2zM1166,548h2v14h-2zM1186,524h2v14h-2zM1194,530h2v16h-2zM1198,538h2v8h-2zM1202,542h2v16h-2zM1206,546h2v14h-2zM1214,554h2v18h-2zM1222,562h2v14h-2zM1226,568h2v14h-2zM1234,550h2v28h-2zM1238,568h2v20h-2zM1254,506h2v24h-2zM1258,518h2v20h-2zM1262,528h2v88h-2zM1270,526h2v20h-2zM1282,520h2v18h-2zM1294,470h2v22h-2zM1306,450h2v16h-2zM1314,441h2v25h-2zM1322,454h2v38h-2zM1326,466h2v36h-2zM1330,482h2v22h-2zM1334,494h2v20h-2z" fill="#ff0000"/>
<g stroke="#787878" stroke-width="1.1" shape-rendering="geometricPrecision"><line x1="205.5" y1="150.9" x2="1671.8" y2="466.9"/><line x1="400" y1="157.9" x2="1791.5" y2="567.5"/><line x1="0" y1="322.5" x2="1230.5" y2="684.6"/><line x1="0" y1="409.6" x2="1304.5" y2="690.5"/><line x1="862.9" y1="620.8" x2="1438.7" y2="391"/><line x1="1062.1" y1="665.9" x2="1637.7" y2="436"/></g>
<g shape-rendering="geometricPrecision">
<line x1="1344.07" y1="504.91" x2="1403.53" y2="751.79" stroke="#ff4242" stroke-width="4.5" stroke-dasharray="4.5 4.737"/>
<polygon points="1389.4,756.1 1418.5,749.1 1410.8,781.4" fill="#ff4242"/>
</g>
<g clip-path="url(#cs)">
<rect x="214" y="921" width="1262" height="2" fill="#7393f2"/>
<path d="M-2,958h2v2h-2zM0,958h2v2h-2zM2,956h2v2h-2zM4,954h2v2h-2zM6,952h2v2h-2zM8,952h2v2h-2zM10,950h2v2h-2zM12,948h2v2h-2zM14,946h2v2h-2zM16,946h2v2h-2zM18,944h2v2h-2zM20,940h2v4h-2zM22,938h2v2h-2zM24,936h2v2h-2zM26,934h2v2h-2zM28,932h2v2h-2zM30,930h2v2h-2zM32,928h2v2h-2zM34,926h2v2h-2zM36,926h2v2h-2zM38,924h2v2h-2zM40,924h2v2h-2zM42,924h2v2h-2zM44,922h2v2h-2zM46,920h2v2h-2zM48,920h2v2h-2zM50,918h2v2h-2zM52,918h2v2h-2zM54,916h2v2h-2zM56,916h2v2h-2zM58,914h2v2h-2zM60,914h2v2h-2zM62,914h2v2h-2zM64,914h2v2h-2zM66,914h2v2h-2zM68,914h2v2h-2zM70,914h2v2h-2zM72,914h2v2h-2zM74,914h2v2h-2zM76,914h2v2h-2zM78,914h2v2h-2zM80,914h2v2h-2zM82,916h2v2h-2zM84,918h2v2h-2zM86,920h2v2h-2zM88,920h2v2h-2zM90,922h2v2h-2zM92,922h2v2h-2zM94,924h2v2h-2zM96,924h2v2h-2zM98,926h2v2h-2zM100,926h2v2h-2zM102,928h2v2h-2zM104,928h2v2h-2zM106,930h2v2h-2zM108,932h2v2h-2zM110,934h2v2h-2zM112,936h2v2h-2zM114,938h2v2h-2zM116,940h2v2h-2zM118,942h2v2h-2zM120,944h2v2h-2zM122,946h2v2h-2zM124,948h2v2h-2zM126,950h2v2h-2zM128,952h2v2h-2zM130,954h2v2h-2zM132,956h2v2h-2zM134,958h2v2h-2zM136,960h2v4h-2zM138,964h2v2h-2zM140,966h2v2h-2zM142,968h2v2h-2zM144,970h2v4h-2zM146,974h2v2h-2zM148,976h2v4h-2zM150,980h2v4h-2zM152,984h2v2h-2zM154,988h2v2h-2zM156,990h2v4h-2zM158,994h2v2h-2zM160,996h2v4h-2zM162,1000h2v4h-2zM164,1004h2v2h-2zM166,1008h2v2h-2zM168,1010h2v2h-2zM170,1012h2v4h-2zM172,1016h2v2h-2zM174,1020h2v2h-2zM176,1022h2v2h-2zM178,1024h2v2h-2zM180,1026h2v4h-2zM182,1030h2v2h-2zM184,1032h2v2h-2zM186,1034h2v2h-2zM188,1036h2v2h-2zM190,1038h2v2h-2zM192,1040h2v2h-2zM194,1042h2v2h-2zM196,1044h2v2h-2zM198,1046h2v2h-2zM200,1048h2v2h-2zM202,1050h2v2h-2zM204,1052h2v2h-2zM206,1054h2v2h-2zM208,1054h2v2h-2zM210,1054h2v2h-2zM212,1054h2v2h-2zM214,1054h2v2h-2zM216,1054h2v2h-2zM218,1054h2v2h-2zM220,1054h2v2h-2zM222,1054h2v2h-2zM224,1052h2v2h-2zM226,1050h2v2h-2zM228,1050h2v2h-2zM230,1048h2v2h-2zM232,1046h2v2h-2zM234,1044h2v2h-2zM236,1042h2v2h-2zM238,1040h2v2h-2zM240,1038h2v2h-2zM242,1036h2v2h-2zM244,1032h2v4h-2zM246,1030h2v2h-2zM248,1026h2v4h-2zM250,1024h2v2h-2zM252,1022h2v2h-2zM254,1018h2v4h-2zM256,1016h2v2h-2zM258,1010h2v4h-2zM260,1008h2v2h-2zM262,1002h2v4h-2zM264,1000h2v2h-2zM266,994h2v4h-2zM268,992h2v2h-2zM270,986h2v4h-2zM272,984h2v2h-2zM274,980h2v2h-2zM276,976h2v4h-2zM278,972h2v4h-2zM280,970h2v2h-2zM282,964h2v4h-2zM284,962h2v2h-2zM286,958h2v2h-2zM288,956h2v2h-2zM290,954h2v2h-2zM292,952h2v2h-2zM294,950h2v2h-2zM296,948h2v2h-2zM298,946h2v2h-2zM300,946h2v2h-2zM302,944h2v2h-2zM304,944h2v2h-2zM306,942h2v2h-2zM308,942h2v2h-2zM310,940h2v2h-2zM312,940h2v2h-2zM314,938h2v2h-2zM316,938h2v2h-2zM318,936h2v2h-2zM320,936h2v2h-2zM322,936h2v2h-2zM324,936h2v2h-2zM326,936h2v2h-2zM328,936h2v2h-2zM330,938h2v2h-2zM332,938h2v2h-2zM334,938h2v2h-2zM336,940h2v2h-2zM338,942h2v2h-2zM340,944h2v2h-2zM342,946h2v2h-2zM344,948h2v2h-2zM346,950h2v2h-2zM348,952h2v2h-2zM350,954h2v2h-2zM352,956h2v2h-2zM354,958h2v2h-2zM356,960h2v4h-2zM358,964h2v2h-2zM360,966h2v4h-2zM362,970h2v2h-2zM364,972h2v4h-2zM366,976h2v4h-2zM368,980h2v2h-2zM370,984h2v4h-2zM372,988h2v2h-2zM374,992h2v4h-2zM376,996h2v2h-2zM378,1000h2v4h-2zM380,1004h2v2h-2zM382,1010h2v4h-2zM384,1014h2v2h-2zM386,1018h2v4h-2zM388,1022h2v2h-2zM390,1026h2v2h-2zM392,1028h2v4h-2zM394,1032h2v4h-2zM396,1036h2v2h-2zM398,1040h2v2h-2zM400,1042h2v4h-2zM402,1046h2v2h-2zM404,1048h2v2h-2zM406,1050h2v2h-2zM408,1052h2v4h-2zM410,1056h2v2h-2zM412,1058h2v2h-2zM414,1060h2v2h-2zM416,1062h2v4h-2zM418,1066h2v2h-2zM420,1068h2v2h-2zM422,1070h2v2h-2zM424,1072h2v2h-2zM426,1074h2v2h-2zM428,1074h2v2h-2zM430,1074h2v2h-2zM432,1074h2v2h-2zM434,1076h2v2h-2zM436,1076h2v2h-2zM438,1074h2v2h-2zM440,1074h2v2h-2zM442,1072h2v2h-2zM444,1072h2v2h-2zM446,1070h2v2h-2zM448,1070h2v2h-2zM450,1068h2v2h-2zM452,1066h2v2h-2zM454,1064h2v2h-2zM456,1062h2v2h-2zM458,1060h2v2h-2zM460,1060h2v2h-2zM462,1058h2v2h-2zM464,1054h2v4h-2zM466,1052h2v2h-2zM468,1050h2v2h-2zM470,1048h2v2h-2zM472,1044h2v4h-2zM474,1042h2v2h-2zM476,1038h2v4h-2zM478,1034h2v4h-2zM480,1032h2v2h-2zM482,1026h2v4h-2zM484,1024h2v2h-2zM486,1018h2v4h-2zM488,1016h2v2h-2zM490,1008h2v4h-2zM492,1006h2v2h-2zM494,1000h2v4h-2zM496,998h2v2h-2zM498,994h2v2h-2zM500,990h2v4h-2zM502,986h2v4h-2zM504,984h2v2h-2zM506,980h2v2h-2zM508,976h2v4h-2zM510,974h2v2h-2zM512,970h2v4h-2zM514,968h2v2h-2zM516,968h2v2h-2zM518,966h2v2h-2zM520,966h2v2h-2zM522,964h2v2h-2zM524,964h2v2h-2zM526,966h2v2h-2zM528,966h2v2h-2zM530,966h2v2h-2zM532,968h2v2h-2zM534,970h2v2h-2zM536,972h2v2h-2zM538,974h2v2h-2zM540,976h2v4h-2zM542,980h2v4h-2zM544,984h2v2h-2zM546,988h2v4h-2zM548,992h2v2h-2zM550,996h2v4h-2zM552,1000h2v2h-2zM554,1004h2v4h-2zM556,1008h2v2h-2zM558,1012h2v4h-2zM560,1016h2v2h-2zM562,1022h2v4h-2zM564,1026h2v2h-2zM566,1032h2v4h-2zM568,1036h2v2h-2zM570,1042h2v4h-2zM572,1046h2v2h-2zM574,1050h2v4h-2zM576,1054h2v2h-2zM578,1060h2v2h-2zM580,1062h2v4h-2zM582,1066h2v2h-2zM584,1068h2v2h-2zM586,1070h2v2h-2zM588,1072h2v2h-2zM590,1074h2v2h-2zM592,1074h2v2h-2zM594,1076h2v2h-2zM596,1076h2v2h-2zM598,1078h2v2h-2zM600,1078h2v2h-2zM602,1080h2v2h-2zM604,1080h2v2h-2zM606,1080h2v2h-2zM608,1080h2v2h-2zM610,1082h2v2h-2zM612,1082h2v2h-2zM614,1082h2v2h-2zM616,1082h2v2h-2zM618,1084h2v2h-2zM620,1084h2v2h-2zM622,1086h2v2h-2zM624,1086h2v2h-2zM626,1088h2v2h-2zM628,1088h2v2h-2zM630,1090h2v2h-2zM632,1090h2v2h-2zM634,1092h2v2h-2zM636,1092h2v2h-2zM638,1094h2v2h-2zM640,1096h2v2h-2zM642,1098h2v2h-2zM644,1100h2v2h-2zM646,1102h2v2h-2zM648,1102h2v2h-2zM650,1104h2v2h-2zM652,1106h2v2h-2zM654,1108h2v2h-2zM656,1108h2v2h-2zM658,1110h2v2h-2zM660,1112h2v2h-2zM662,1114h2v2h-2zM664,1114h2v2h-2zM666,1116h2v2h-2zM668,1116h2v2h-2zM670,1116h2v2h-2zM672,1116h2v2h-2zM674,1118h2v2h-2zM676,1118h2v2h-2zM678,1118h2v2h-2zM680,1118h2v2h-2zM682,1118h2v2h-2zM684,1118h2v2h-2zM686,1120h2v2h-2zM688,1120h2v2h-2zM690,1118h2v2h-2zM692,1118h2v2h-2zM694,1116h2v2h-2zM696,1114h2v2h-2zM698,1112h2v2h-2zM700,1108h2v4h-2zM702,1106h2v2h-2zM704,1102h2v4h-2zM706,1098h2v4h-2zM708,1096h2v2h-2zM710,1090h2v4h-2zM712,1088h2v2h-2zM714,1082h2v4h-2zM716,1080h2v2h-2zM718,1074h2v4h-2zM720,1072h2v2h-2zM722,1064h2v4h-2zM724,1062h2v2h-2zM726,1056h2v4h-2zM728,1054h2v2h-2zM730,1044h2v4h-2zM732,1042h2v2h-2zM734,1034h2v4h-2zM736,1032h2v2h-2zM738,1020h2v6h-2zM740,1018h2v2h-2zM742,1006h2v6h-2zM744,1004h2v2h-2zM746,996h2v4h-2zM748,994h2v2h-2zM750,984h2v4h-2zM752,982h2v2h-2zM754,972h2v4h-2zM756,970h2v2h-2zM758,962h2v4h-2zM760,960h2v2h-2zM762,952h2v4h-2zM764,950h2v2h-2zM766,946h2v2h-2zM768,942h2v4h-2zM770,938h2v4h-2zM772,936h2v2h-2zM774,932h2v2h-2zM776,928h2v4h-2zM778,926h2v2h-2zM780,924h2v2h-2zM782,922h2v2h-2zM784,922h2v2h-2zM786,920h2v2h-2zM788,920h2v2h-2zM790,918h2v2h-2zM792,918h2v2h-2zM794,920h2v2h-2zM796,922h2v4h-2zM798,926h2v2h-2zM800,928h2v4h-2zM802,932h2v4h-2zM804,936h2v2h-2zM806,940h2v4h-2zM808,944h2v2h-2zM810,948h2v4h-2zM812,952h2v2h-2zM814,956h2v4h-2zM816,960h2v2h-2zM818,966h2v4h-2zM820,970h2v2h-2zM822,976h2v4h-2zM824,980h2v2h-2zM826,988h2v4h-2zM828,992h2v2h-2zM830,998h2v4h-2zM832,1002h2v2h-2zM834,1008h2v4h-2zM836,1012h2v2h-2zM838,1020h2v4h-2zM840,1024h2v2h-2zM842,1032h2v4h-2zM844,1036h2v2h-2zM846,1042h2v4h-2zM848,1046h2v2h-2zM850,1054h2v6h-2zM852,1060h2v2h-2zM854,1064h2v2h-2zM856,1066h2v4h-2zM858,1070h2v2h-2zM860,1072h2v4h-2zM862,1076h2v2h-2zM864,1078h2v2h-2zM866,1080h2v2h-2zM868,1082h2v2h-2zM870,1084h2v2h-2zM872,1084h2v2h-2zM874,1084h2v2h-2zM876,1084h2v2h-2zM878,1086h2v2h-2zM880,1086h2v2h-2zM882,1086h2v2h-2zM884,1086h2v2h-2zM886,1086h2v2h-2zM888,1086h2v2h-2zM890,1084h2v2h-2zM892,1084h2v2h-2zM894,1082h2v2h-2zM896,1082h2v2h-2zM898,1080h2v2h-2zM900,1080h2v2h-2zM902,1078h2v2h-2zM904,1078h2v2h-2zM906,1076h2v2h-2zM908,1074h2v2h-2zM910,1072h2v2h-2zM912,1070h2v2h-2zM914,1068h2v2h-2zM916,1066h2v2h-2zM918,1064h2v2h-2zM920,1064h2v2h-2zM922,1062h2v2h-2zM924,1062h2v2h-2zM926,1060h2v2h-2zM928,1060h2v2h-2zM930,1058h2v2h-2zM932,1056h2v2h-2zM934,1054h2v2h-2zM936,1054h2v2h-2zM938,1054h2v2h-2zM940,1054h2v2h-2zM942,1054h2v2h-2zM944,1054h2v2h-2zM946,1054h2v2h-2zM948,1054h2v2h-2zM950,1054h2v2h-2zM952,1054h2v2h-2zM954,1052h2v2h-2zM956,1052h2v2h-2zM958,1052h2v2h-2zM960,1052h2v2h-2zM962,1054h2v2h-2zM964,1054h2v2h-2zM966,1056h2v2h-2zM968,1058h2v2h-2zM970,1060h2v2h-2zM972,1062h2v2h-2zM974,1064h2v2h-2zM976,1066h2v2h-2zM978,1068h2v2h-2zM980,1070h2v2h-2zM982,1072h2v2h-2zM984,1074h2v2h-2zM986,1076h2v2h-2zM988,1076h2v2h-2zM990,1078h2v2h-2zM992,1078h2v2h-2zM994,1080h2v2h-2zM996,1080h2v2h-2zM998,1080h2v2h-2zM1000,1080h2v2h-2zM1002,1080h2v2h-2zM1004,1080h2v2h-2zM1006,1078h2v2h-2zM1008,1078h2v2h-2zM1010,1076h2v2h-2zM1012,1074h2v2h-2zM1014,1072h2v2h-2zM1016,1068h2v4h-2zM1018,1066h2v2h-2zM1020,1062h2v4h-2zM1022,1058h2v4h-2zM1024,1056h2v2h-2zM1026,1050h2v4h-2zM1028,1048h2v2h-2zM1030,1040h2v4h-2zM1032,1038h2v2h-2zM1034,1030h2v4h-2zM1036,1028h2v2h-2zM1038,1020h2v4h-2zM1040,1018h2v2h-2zM1042,1008h2v4h-2zM1044,1006h2v2h-2zM1046,994h2v6h-2zM1048,992h2v2h-2zM1050,982h2v4h-2zM1052,980h2v2h-2zM1054,972h2v4h-2zM1056,970h2v2h-2zM1058,962h2v4h-2zM1060,960h2v2h-2zM1062,956h2v2h-2zM1064,952h2v4h-2zM1066,948h2v4h-2zM1068,946h2v2h-2zM1070,942h2v2h-2zM1072,940h2v2h-2zM1074,938h2v2h-2zM1076,936h2v2h-2zM1078,934h2v2h-2zM1080,934h2v2h-2zM1082,934h2v2h-2zM1084,934h2v2h-2zM1086,934h2v2h-2zM1088,936h2v2h-2zM1090,938h2v2h-2zM1092,940h2v2h-2zM1094,942h2v2h-2zM1096,944h2v4h-2zM1098,948h2v4h-2zM1100,952h2v2h-2zM1102,956h2v4h-2zM1104,960h2v2h-2zM1106,964h2v4h-2zM1108,968h2v2h-2zM1110,974h2v4h-2zM1112,978h2v2h-2zM1114,984h2v4h-2zM1116,988h2v2h-2zM1118,996h2v4h-2zM1120,1000h2v2h-2zM1122,1006h2v4h-2zM1124,1010h2v2h-2zM1126,1016h2v4h-2zM1128,1020h2v2h-2zM1130,1026h2v4h-2zM1132,1030h2v2h-2zM1134,1036h2v4h-2zM1136,1040h2v2h-2zM1138,1046h2v4h-2zM1140,1050h2v2h-2zM1142,1054h2v4h-2zM1144,1058h2v2h-2zM1146,1062h2v2h-2zM1148,1064h2v4h-2zM1150,1068h2v2h-2zM1152,1070h2v4h-2zM1154,1074h2v2h-2zM1156,1074h2v2h-2zM1158,1076h2v2h-2zM1160,1076h2v2h-2zM1162,1076h2v2h-2zM1164,1076h2v2h-2zM1166,1078h2v2h-2zM1168,1078h2v2h-2zM1170,1076h2v2h-2zM1172,1076h2v2h-2zM1174,1076h2v2h-2zM1176,1074h2v2h-2zM1178,1072h2v2h-2zM1180,1070h2v2h-2zM1182,1068h2v2h-2zM1184,1068h2v2h-2zM1186,1066h2v2h-2zM1188,1064h2v2h-2zM1190,1062h2v2h-2zM1192,1060h2v2h-2zM1194,1058h2v2h-2zM1196,1056h2v2h-2zM1198,1054h2v2h-2zM1200,1050h2v4h-2zM1202,1048h2v2h-2zM1204,1046h2v2h-2zM1206,1044h2v2h-2zM1208,1042h2v2h-2zM1210,1040h2v2h-2zM1212,1038h2v2h-2zM1214,1036h2v2h-2zM1216,1034h2v2h-2zM1218,1032h2v2h-2zM1220,1030h2v2h-2zM1222,1028h2v2h-2zM1224,1028h2v2h-2zM1226,1026h2v2h-2zM1228,1026h2v2h-2zM1230,1026h2v2h-2zM1232,1026h2v2h-2zM1234,1026h2v2h-2zM1236,1026h2v2h-2zM1238,1026h2v2h-2zM1240,1026h2v2h-2zM1242,1028h2v2h-2zM1244,1030h2v2h-2zM1246,1032h2v2h-2zM1248,1032h2v2h-2zM1250,1034h2v2h-2zM1252,1036h2v2h-2zM1254,1038h2v2h-2zM1256,1040h2v2h-2zM1258,1042h2v2h-2zM1260,1044h2v2h-2zM1262,1046h2v2h-2zM1264,1046h2v2h-2zM1266,1048h2v2h-2zM1268,1048h2v2h-2zM1270,1050h2v2h-2zM1272,1050h2v2h-2zM1274,1052h2v2h-2zM1276,1052h2v2h-2zM1278,1054h2v2h-2zM1280,1054h2v2h-2zM1282,1052h2v2h-2zM1284,1052h2v2h-2zM1286,1050h2v2h-2zM1288,1048h2v2h-2zM1290,1046h2v2h-2zM1292,1042h2v4h-2zM1294,1038h2v4h-2zM1296,1036h2v2h-2zM1298,1030h2v4h-2zM1300,1028h2v2h-2zM1302,1020h2v4h-2zM1304,1018h2v2h-2zM1306,1010h2v4h-2zM1308,1008h2v2h-2zM1310,1000h2v4h-2zM1312,998h2v2h-2zM1314,990h2v4h-2zM1316,988h2v2h-2zM1318,980h2v4h-2zM1320,978h2v2h-2zM1322,970h2v4h-2zM1324,968h2v2h-2zM1326,964h2v2h-2zM1328,960h2v4h-2zM1330,958h2v2h-2zM1332,956h2v2h-2z" fill="#ff0000"/>
<path d="M-2,932h2v2h-2zM0,932h2v2h-2zM2,932h2v2h-2zM4,932h2v2h-2zM6,930h2v2h-2zM8,926h2v4h-2zM10,922h2v4h-2zM12,918h2v4h-2zM14,916h2v2h-2zM16,912h2v4h-2zM18,910h2v2h-2zM20,910h2v2h-2zM22,908h2v2h-2zM24,908h2v2h-2zM26,910h2v2h-2zM28,910h2v2h-2zM30,912h2v2h-2zM32,912h2v2h-2zM34,912h2v2h-2zM36,912h2v2h-2zM38,914h2v2h-2zM40,914h2v2h-2zM42,912h2v2h-2zM44,912h2v2h-2zM46,912h2v2h-2zM48,912h2v2h-2zM50,912h2v2h-2zM52,912h2v2h-2zM54,912h2v2h-2zM56,914h2v2h-2zM58,916h2v2h-2zM60,918h2v2h-2zM62,920h2v2h-2zM64,920h2v2h-2zM66,922h2v2h-2zM68,922h2v2h-2zM70,924h2v2h-2zM72,924h2v2h-2zM74,926h2v2h-2zM76,928h2v2h-2zM78,930h2v2h-2zM80,932h2v2h-2zM82,934h2v2h-2zM84,934h2v2h-2zM86,936h2v2h-2zM88,936h2v2h-2zM90,936h2v2h-2zM92,938h2v2h-2zM94,940h2v2h-2zM96,942h2v2h-2zM98,944h2v4h-2zM100,948h2v4h-2zM102,952h2v4h-2zM104,956h2v4h-2zM106,960h2v2h-2zM108,962h2v2h-2zM110,964h2v2h-2zM112,966h2v2h-2zM114,968h2v2h-2zM116,970h2v2h-2zM118,972h2v2h-2zM120,974h2v2h-2zM122,976h2v4h-2zM124,980h2v4h-2zM126,984h2v4h-2zM128,988h2v4h-2zM130,992h2v2h-2zM132,994h2v4h-2zM134,998h2v2h-2zM136,998h2v2h-2zM138,1000h2v2h-2zM140,1000h2v2h-2zM142,1002h2v6h-2zM144,1008h2v8h-2zM146,1016h2v6h-2zM148,1022h2v6h-2zM150,1028h2v6h-2zM152,1034h2v6h-2zM154,1040h2v4h-2zM156,1042h2v2h-2zM158,1044h2v2h-2zM160,1044h2v2h-2zM162,1044h2v2h-2zM164,1046h2v2h-2zM166,1048h2v2h-2zM168,1050h2v4h-2zM170,1054h2v2h-2zM172,1056h2v4h-2zM174,1060h2v2h-2zM176,1060h2v2h-2zM178,1060h2v2h-2zM180,1060h2v2h-2zM182,1058h2v2h-2zM184,1056h2v2h-2zM186,1054h2v2h-2zM188,1054h2v2h-2zM190,1054h2v2h-2zM192,1054h2v2h-2zM194,1056h2v2h-2zM196,1058h2v2h-2zM198,1060h2v2h-2zM200,1062h2v4h-2zM202,1064h2v4h-2zM204,1060h2v4h-2zM206,1056h2v4h-2zM208,1052h2v4h-2zM210,1048h2v4h-2zM212,1044h2v4h-2zM214,1042h2v2h-2zM216,1040h2v2h-2zM218,1038h2v2h-2zM220,1038h2v2h-2zM222,1036h2v2h-2zM224,1032h2v4h-2zM226,1028h2v4h-2zM228,1024h2v4h-2zM230,1016h2v8h-2zM232,1008h2v8h-2zM234,1002h2v6h-2zM236,994h2v8h-2zM238,988h2v6h-2zM240,982h2v6h-2zM242,976h2v6h-2zM244,972h2v4h-2zM246,970h2v2h-2zM248,970h2v2h-2zM250,968h2v2h-2zM252,968h2v2h-2zM254,964h2v4h-2zM256,960h2v4h-2zM258,958h2v2h-2zM260,954h2v4h-2zM262,952h2v2h-2zM264,950h2v2h-2zM266,948h2v2h-2zM268,946h2v2h-2zM270,944h2v2h-2zM272,944h2v2h-2zM274,942h2v2h-2zM276,938h2v4h-2zM278,936h2v2h-2zM280,932h2v4h-2zM282,930h2v2h-2zM284,928h2v2h-2zM286,926h2v2h-2zM288,926h2v2h-2zM290,926h2v2h-2zM292,926h2v2h-2zM294,926h2v2h-2zM296,928h2v2h-2zM298,930h2v2h-2zM300,932h2v2h-2zM302,934h2v2h-2zM304,934h2v2h-2zM306,936h2v2h-2zM308,936h2v2h-2zM310,936h2v2h-2zM312,936h2v2h-2zM314,936h2v2h-2zM316,936h2v2h-2zM318,938h2v2h-2zM320,940h2v2h-2zM322,942h2v2h-2zM324,944h2v4h-2zM326,948h2v4h-2zM328,952h2v4h-2zM330,956h2v4h-2zM332,960h2v6h-2zM334,966h2v6h-2zM336,972h2v6h-2zM338,978h2v6h-2zM340,984h2v4h-2zM342,988h2v4h-2zM344,992h2v4h-2zM346,996h2v4h-2zM348,998h2v2h-2zM350,1000h2v2h-2zM352,1000h2v2h-2zM354,1002h2v4h-2zM356,1006h2v4h-2zM358,1010h2v4h-2zM360,1014h2v4h-2zM362,1018h2v4h-2zM364,1022h2v6h-2zM366,1028h2v6h-2zM368,1034h2v6h-2zM370,1040h2v6h-2zM372,1046h2v8h-2zM374,1054h2v6h-2zM376,1060h2v8h-2zM378,1068h2v6h-2zM380,1074h2v4h-2zM382,1078h2v2h-2zM384,1078h2v2h-2zM386,1078h2v2h-2zM388,1076h2v2h-2zM390,1074h2v2h-2zM392,1072h2v2h-2zM394,1070h2v2h-2zM396,1070h2v2h-2zM398,1068h2v2h-2zM400,1068h2v2h-2zM402,1070h2v2h-2zM404,1072h2v2h-2zM406,1074h2v2h-2zM408,1076h2v2h-2zM410,1078h2v2h-2zM412,1080h2v4h-2zM414,1084h2v2h-2zM416,1084h2v2h-2zM418,1082h2v2h-2zM420,1082h2v2h-2zM422,1080h2v2h-2zM424,1078h2v2h-2zM426,1074h2v4h-2zM428,1070h2v4h-2zM430,1066h2v4h-2zM432,1062h2v4h-2zM434,1058h2v4h-2zM436,1054h2v4h-2zM438,1050h2v4h-2zM440,1046h2v4h-2zM442,1044h2v2h-2zM444,1040h2v4h-2zM446,1038h2v2h-2zM448,1034h2v4h-2zM450,1030h2v4h-2zM452,1026h2v4h-2zM454,1024h2v2h-2zM456,1020h2v4h-2zM458,1018h2v2h-2zM460,1014h2v4h-2zM462,1010h2v4h-2zM464,1006h2v4h-2zM466,1002h2v4h-2zM468,998h2v4h-2zM470,994h2v4h-2zM472,990h2v4h-2zM474,986h2v4h-2zM476,982h2v4h-2zM478,978h2v4h-2zM480,974h2v4h-2zM482,970h2v4h-2zM484,966h2v4h-2zM486,960h2v6h-2zM488,952h2v8h-2zM490,946h2v6h-2zM492,942h2v4h-2zM494,936h2v6h-2zM496,932h2v4h-2zM498,928h2v4h-2zM500,928h2v2h-2zM502,928h2v2h-2zM504,930h2v2h-2zM506,932h2v2h-2zM508,934h2v4h-2zM510,938h2v4h-2zM512,942h2v8h-2zM514,950h2v8h-2zM516,958h2v8h-2zM518,966h2v10h-2zM520,976h2v12h-2zM522,988h2v10h-2zM524,998h2v8h-2zM526,1006h2v8h-2zM528,1014h2v8h-2zM530,1022h2v10h-2zM532,1032h2v8h-2zM534,1040h2v6h-2zM536,1046h2v4h-2zM538,1050h2v6h-2zM540,1056h2v4h-2zM542,1060h2v2h-2zM544,1062h2v4h-2zM546,1066h2v2h-2zM548,1068h2v4h-2zM550,1072h2v2h-2zM552,1074h2v2h-2zM554,1076h2v2h-2zM556,1078h2v4h-2zM558,1082h2v2h-2zM560,1082h2v2h-2zM562,1084h2v2h-2zM564,1086h2v2h-2zM566,1088h2v2h-2zM568,1088h2v2h-2zM570,1088h2v2h-2zM572,1088h2v2h-2zM574,1088h2v2h-2zM576,1084h2v4h-2zM578,1082h2v2h-2zM580,1080h2v2h-2zM582,1078h2v2h-2zM584,1078h2v2h-2zM586,1078h2v2h-2zM588,1078h2v2h-2zM590,1078h2v2h-2zM592,1078h2v2h-2zM594,1078h2v2h-2zM596,1078h2v2h-2zM598,1080h2v2h-2zM600,1080h2v2h-2zM602,1082h2v2h-2zM604,1082h2v2h-2zM606,1084h2v2h-2zM608,1086h2v2h-2zM610,1088h2v4h-2zM612,1092h2v4h-2zM614,1096h2v2h-2zM616,1098h2v2h-2zM618,1100h2v2h-2zM620,1102h2v2h-2zM622,1104h2v2h-2zM624,1106h2v4h-2zM626,1110h2v2h-2zM628,1112h2v4h-2zM630,1116h2v2h-2zM632,1118h2v2h-2zM634,1120h2v2h-2zM636,1122h2v4h-2zM638,1126h2v2h-2zM640,1126h2v2h-2zM642,1128h2v2h-2zM644,1128h2v2h-2zM646,1128h2v2h-2zM648,1128h2v2h-2zM650,1128h2v2h-2zM652,1128h2v2h-2zM654,1126h2v2h-2zM656,1126h2v2h-2zM658,1124h2v2h-2zM660,1122h2v2h-2zM662,1120h2v2h-2zM664,1120h2v2h-2zM666,1118h2v2h-2zM668,1118h2v2h-2zM670,1116h2v2h-2zM672,1116h2v2h-2zM674,1114h2v2h-2zM676,1114h2v2h-2zM678,1110h2v4h-2zM680,1106h2v4h-2zM682,1104h2v2h-2zM684,1100h2v4h-2zM686,1096h2v4h-2zM688,1092h2v4h-2zM690,1088h2v4h-2zM692,1084h2v4h-2zM694,1080h2v4h-2zM696,1072h2v8h-2zM698,1066h2v6h-2zM700,1058h2v8h-2zM702,1052h2v6h-2zM704,1044h2v8h-2zM706,1038h2v6h-2zM708,1030h2v8h-2zM710,1024h2v6h-2zM712,1016h2v8h-2zM714,1010h2v6h-2zM716,1002h2v8h-2zM718,996h2v6h-2zM720,988h2v8h-2zM722,980h2v8h-2zM724,972h2v8h-2zM726,964h2v8h-2zM728,956h2v8h-2zM730,948h2v8h-2zM732,940h2v8h-2zM734,934h2v6h-2zM736,930h2v4h-2zM738,926h2v4h-2zM740,922h2v4h-2zM742,918h2v4h-2zM744,914h2v4h-2zM746,910h2v4h-2zM748,910h2v2h-2zM750,910h2v2h-2zM752,910h2v2h-2zM754,910h2v2h-2zM756,910h2v2h-2zM758,910h2v2h-2zM760,910h2v2h-2zM762,910h2v2h-2zM764,910h2v2h-2zM766,910h2v2h-2zM768,912h2v2h-2zM770,914h2v2h-2zM772,914h2v2h-2zM774,916h2v2h-2zM776,916h2v2h-2zM778,916h2v2h-2zM780,916h2v2h-2zM782,918h2v4h-2zM784,922h2v4h-2zM786,926h2v4h-2zM788,930h2v8h-2zM790,938h2v8h-2zM792,946h2v12h-2zM794,958h2v12h-2zM796,970h2v12h-2zM798,982h2v12h-2zM800,994h2v8h-2zM802,1002h2v10h-2zM804,1012h2v8h-2zM806,1020h2v6h-2zM808,1026h2v8h-2zM810,1034h2v6h-2zM812,1040h2v6h-2zM814,1046h2v6h-2zM816,1052h2v6h-2zM818,1058h2v6h-2zM820,1064h2v6h-2zM822,1070h2v6h-2zM824,1076h2v4h-2zM826,1080h2v2h-2zM828,1082h2v4h-2zM830,1086h2v2h-2zM832,1086h2v2h-2zM834,1088h2v2h-2zM836,1088h2v2h-2zM838,1090h2v2h-2zM840,1090h2v2h-2zM842,1092h2v2h-2zM844,1094h2v4h-2zM846,1098h2v2h-2zM848,1098h2v2h-2zM850,1100h2v2h-2zM852,1098h2v2h-2zM854,1096h2v2h-2zM856,1094h2v2h-2zM858,1092h2v2h-2zM860,1090h2v2h-2zM862,1088h2v2h-2zM864,1088h2v2h-2zM866,1086h2v2h-2zM868,1084h2v2h-2zM870,1082h2v2h-2zM872,1080h2v2h-2zM874,1078h2v2h-2zM876,1076h2v2h-2zM878,1074h2v2h-2zM880,1072h2v2h-2zM882,1070h2v2h-2zM884,1070h2v2h-2zM886,1068h2v2h-2zM888,1068h2v2h-2zM890,1068h2v2h-2zM892,1066h2v2h-2zM894,1064h2v2h-2zM896,1064h2v2h-2zM898,1062h2v2h-2zM900,1060h2v2h-2zM902,1058h2v2h-2zM904,1056h2v2h-2zM906,1054h2v2h-2zM908,1052h2v2h-2zM910,1050h2v2h-2zM912,1048h2v2h-2zM914,1046h2v2h-2zM916,1044h2v2h-2zM918,1042h2v2h-2zM920,1042h2v2h-2zM922,1040h2v2h-2zM924,1040h2v2h-2zM926,1040h2v2h-2zM928,1040h2v2h-2zM930,1042h2v2h-2zM932,1044h2v2h-2zM934,1046h2v4h-2zM936,1050h2v4h-2zM938,1054h2v6h-2zM940,1060h2v4h-2zM942,1064h2v2h-2zM944,1062h2v2h-2zM946,1060h2v2h-2zM948,1060h2v2h-2zM950,1058h2v2h-2zM952,1058h2v2h-2zM954,1060h2v4h-2zM956,1064h2v4h-2zM958,1068h2v4h-2zM960,1072h2v4h-2zM962,1076h2v4h-2zM964,1080h2v4h-2zM966,1084h2v6h-2zM968,1090h2v4h-2zM970,1094h2v4h-2zM972,1098h2v4h-2zM974,1102h2v4h-2zM976,1106h2v2h-2zM978,1108h2v2h-2zM980,1106h2v2h-2zM982,1102h2v4h-2zM984,1098h2v4h-2zM986,1092h2v6h-2zM988,1084h2v8h-2zM990,1078h2v6h-2zM992,1072h2v6h-2zM994,1066h2v6h-2zM996,1060h2v6h-2zM998,1054h2v6h-2zM1000,1048h2v6h-2zM1002,1040h2v8h-2zM1004,1032h2v8h-2zM1006,1026h2v6h-2zM1008,1020h2v6h-2zM1010,1014h2v6h-2zM1012,1008h2v6h-2zM1014,1002h2v6h-2zM1016,994h2v8h-2zM1018,988h2v6h-2zM1020,980h2v8h-2zM1022,972h2v8h-2zM1024,964h2v8h-2zM1026,958h2v6h-2zM1028,950h2v8h-2zM1030,944h2v6h-2zM1032,940h2v4h-2zM1034,936h2v4h-2zM1036,932h2v4h-2zM1038,930h2v2h-2zM1040,926h2v4h-2zM1042,924h2v2h-2zM1044,922h2v2h-2zM1046,920h2v2h-2zM1048,920h2v2h-2zM1050,918h2v2h-2zM1052,918h2v2h-2zM1054,918h2v2h-2zM1056,918h2v2h-2zM1058,918h2v2h-2zM1060,918h2v2h-2zM1062,920h2v2h-2zM1064,920h2v2h-2zM1066,922h2v2h-2zM1068,924h2v4h-2zM1070,928h2v4h-2zM1072,932h2v4h-2zM1074,936h2v6h-2zM1076,942h2v6h-2zM1078,948h2v8h-2zM1080,956h2v8h-2zM1082,964h2v8h-2zM1084,972h2v8h-2zM1086,980h2v6h-2zM1088,986h2v8h-2zM1090,994h2v6h-2zM1092,1000h2v6h-2zM1094,1006h2v6h-2zM1096,1012h2v8h-2zM1098,1020h2v6h-2zM1100,1026h2v8h-2zM1102,1034h2v6h-2zM1104,1040h2v6h-2zM1106,1046h2v6h-2zM1108,1052h2v8h-2zM1110,1060h2v6h-2zM1112,1066h2v4h-2zM1114,1070h2v6h-2zM1116,1076h2v4h-2zM1118,1080h2v4h-2zM1120,1084h2v4h-2zM1122,1088h2v2h-2zM1124,1090h2v4h-2zM1126,1094h2v2h-2zM1128,1094h2v2h-2zM1130,1092h2v2h-2zM1132,1090h2v2h-2zM1134,1088h2v2h-2zM1136,1086h2v2h-2zM1138,1084h2v2h-2zM1140,1082h2v2h-2zM1142,1080h2v2h-2zM1144,1080h2v2h-2zM1146,1080h2v2h-2zM1148,1080h2v2h-2zM1150,1078h2v2h-2zM1152,1076h2v2h-2zM1154,1074h2v2h-2zM1156,1074h2v2h-2zM1158,1072h2v2h-2zM1160,1070h2v2h-2zM1162,1068h2v2h-2zM1164,1066h2v2h-2zM1166,1064h2v2h-2zM1168,1062h2v2h-2zM1170,1060h2v2h-2zM1172,1056h2v4h-2zM1174,1054h2v2h-2zM1176,1052h2v2h-2zM1178,1050h2v2h-2zM1180,1046h2v4h-2zM1182,1044h2v2h-2zM1184,1040h2v4h-2zM1186,1038h2v2h-2zM1188,1034h2v4h-2zM1190,1032h2v2h-2zM1192,1028h2v4h-2zM1194,1024h2v4h-2zM1196,1020h2v4h-2zM1198,1018h2v2h-2zM1200,1016h2v2h-2zM1202,1014h2v2h-2zM1204,1012h2v2h-2zM1206,1010h2v2h-2zM1208,1008h2v2h-2zM1210,1006h2v2h-2zM1212,1004h2v2h-2zM1214,1002h2v2h-2zM1216,1004h2v4h-2zM1218,1008h2v4h-2zM1220,1012h2v6h-2zM1222,1018h2v6h-2zM1224,1024h2v4h-2zM1226,1028h2v6h-2zM1228,1034h2v4h-2zM1230,1038h2v4h-2zM1232,1042h2v4h-2zM1234,1046h2v6h-2zM1236,1052h2v8h-2zM1238,1060h2v6h-2zM1240,1066h2v8h-2zM1242,1074h2v6h-2zM1244,1080h2v6h-2zM1246,1086h2v4h-2zM1248,1082h2v4h-2zM1250,1078h2v4h-2zM1252,1074h2v4h-2zM1254,1072h2v2h-2zM1256,1070h2v2h-2zM1258,1068h2v2h-2zM1260,1066h2v2h-2zM1262,1062h2v4h-2zM1264,1056h2v6h-2zM1266,1050h2v6h-2zM1268,1044h2v6h-2zM1270,1038h2v6h-2zM1272,1030h2v8h-2zM1274,1024h2v6h-2zM1276,1018h2v6h-2zM1278,1012h2v6h-2zM1280,1006h2v6h-2zM1282,1000h2v6h-2zM1284,992h2v8h-2zM1286,986h2v6h-2zM1288,980h2v6h-2zM1290,974h2v6h-2zM1292,970h2v4h-2zM1294,964h2v6h-2zM1296,958h2v6h-2zM1298,952h2v6h-2zM1300,948h2v4h-2zM1302,942h2v6h-2zM1304,938h2v4h-2zM1306,936h2v2h-2zM1308,934h2v2h-2zM1310,932h2v2h-2zM1312,930h2v2h-2zM1314,928h2v2h-2zM1316,928h2v2h-2zM1318,926h2v2h-2zM1320,922h2v4h-2zM1322,920h2v2h-2zM1324,922h2v2h-2zM1326,924h2v2h-2zM1328,924h2v2h-2zM1330,926h2v2h-2zM1332,926h2v2h-2z" fill="#20b2aa"/>
</g>
<g fill="#000">
<rect x="0" y="882" width="1816" height="2"/>
<rect x="0" y="886" width="1816" height="2"/>
<rect x="0" y="1168" width="1816" height="2"/>
<rect x="1814" y="0" width="2" height="1170"/>
<rect x="1816" y="18" width="4" height="2"/>
<rect x="1816" y="84" width="4" height="2"/>
<rect x="1816" y="150" width="4" height="2"/>
<rect x="1816" y="216" width="4" height="2"/>
<rect x="1816" y="282" width="4" height="2"/>
<rect x="1816" y="348" width="4" height="2"/>
<rect x="1816" y="414" width="4" height="2"/>
<rect x="1816" y="480" width="4" height="2"/>
<rect x="1816" y="546" width="4" height="2"/>
<rect x="1816" y="612" width="4" height="2"/>
<rect x="1816" y="678" width="4" height="2"/>
<rect x="1816" y="744" width="4" height="2"/>
<rect x="1816" y="810" width="4" height="2"/>
<rect x="1816" y="876" width="4" height="2"/>
<rect x="1816" y="890" width="2" height="2"/>
<rect x="1816" y="1166" width="2" height="2"/>
<rect x="126" y="1170" width="2" height="5"/>
<rect x="254" y="1170" width="2" height="5"/>
<rect x="382" y="1170" width="2" height="5"/>
<rect x="510" y="1170" width="2" height="5"/>
<rect x="638" y="1170" width="2" height="5"/>
<rect x="766" y="1170" width="2" height="5"/>
<rect x="894" y="1170" width="2" height="5"/>
<rect x="1022" y="1170" width="2" height="5"/>
<rect x="1150" y="1170" width="2" height="5"/>
<rect x="1278" y="1170" width="2" height="5"/>
</g>
<rect x="1820" y="498" width="78" height="22" fill="#000"/>
<g font-family="Liberation Sans, Arial, sans-serif" filter="url(#crisp)"><text x="1825" y="26" font-size="20" fill="#000" textLength="66" lengthAdjust="spacingAndGlyphs">3731.80</text><text x="1825" y="92" font-size="20" fill="#000" textLength="66" lengthAdjust="spacingAndGlyphs">3720.70</text><text x="1825" y="158" font-size="20" fill="#000" textLength="66" lengthAdjust="spacingAndGlyphs">3709.60</text><text x="1825" y="224" font-size="20" fill="#000" textLength="66" lengthAdjust="spacingAndGlyphs">3698.80</text><text x="1825" y="290" font-size="20" fill="#000" textLength="66" lengthAdjust="spacingAndGlyphs">3687.70</text><text x="1825" y="356" font-size="20" fill="#000" textLength="66" lengthAdjust="spacingAndGlyphs">3676.60</text><text x="1825" y="422" font-size="20" fill="#000" textLength="66" lengthAdjust="spacingAndGlyphs">3665.50</text><text x="1825" y="488" font-size="20" fill="#000" textLength="66" lengthAdjust="spacingAndGlyphs">3654.40</text><text x="1825" y="554" font-size="20" fill="#000" textLength="66" lengthAdjust="spacingAndGlyphs">3643.60</text><text x="1825" y="620" font-size="20" fill="#000" textLength="66" lengthAdjust="spacingAndGlyphs">3632.50</text><text x="1825" y="686" font-size="20" fill="#000" textLength="66" lengthAdjust="spacingAndGlyphs">3621.40</text><text x="1825" y="752" font-size="20" fill="#000" textLength="66" lengthAdjust="spacingAndGlyphs">3610.30</text><text x="1825" y="818" font-size="20" fill="#000" textLength="66" lengthAdjust="spacingAndGlyphs">3599.50</text><text x="1825" y="884" font-size="20" fill="#000" textLength="66" lengthAdjust="spacingAndGlyphs">3588.40</text><text x="1825" y="516" font-size="20" fill="#fff" textLength="66.5" lengthAdjust="spacingAndGlyphs">3649.81</text><text x="1822.5" y="908" font-size="20" fill="#000" textLength="28.5" lengthAdjust="spacingAndGlyphs">100</text><text x="1819.5" y="952" font-size="20" fill="#000" textLength="18" lengthAdjust="spacingAndGlyphs">80</text><text x="1819" y="1120" font-size="20" fill="#000" textLength="19.5" lengthAdjust="spacingAndGlyphs">20</text><text x="1821.5" y="1162" font-size="20" fill="#000" textLength="8" lengthAdjust="spacingAndGlyphs">0</text><text x="124.5" y="1193.7" font-size="20" fill="#000" textLength="108" lengthAdjust="spacingAndGlyphs">16 Sep 02:45</text><text x="252.5" y="1193.7" font-size="20" fill="#000" textLength="108" lengthAdjust="spacingAndGlyphs">16 Sep 10:45</text><text x="380.5" y="1193.7" font-size="20" fill="#000" textLength="108" lengthAdjust="spacingAndGlyphs">16 Sep 18:45</text><text x="508.5" y="1193.7" font-size="20" fill="#000" textLength="108" lengthAdjust="spacingAndGlyphs">17 Sep 03:45</text><text x="636.5" y="1193.7" font-size="20" fill="#000" textLength="108" lengthAdjust="spacingAndGlyphs">17 Sep 11:45</text><text x="764.5" y="1193.7" font-size="20" fill="#000" textLength="108" lengthAdjust="spacingAndGlyphs">17 Sep 19:45</text><text x="892.5" y="1193.7" font-size="20" fill="#000" textLength="108" lengthAdjust="spacingAndGlyphs">18 Sep 04:45</text><text x="1020.5" y="1193.7" font-size="20" fill="#000" textLength="108" lengthAdjust="spacingAndGlyphs">18 Sep 12:45</text><text x="1148.5" y="1193.7" font-size="20" fill="#000" textLength="108" lengthAdjust="spacingAndGlyphs">18 Sep 20:45</text><text x="1276.5" y="1193.7" font-size="20" fill="#000" textLength="108" lengthAdjust="spacingAndGlyphs">19 Sep 05:45</text><text x="-4" y="1193.7" font-size="20" fill="#000" textLength="103" lengthAdjust="spacingAndGlyphs">15 Sep 2025</text><text x="27.5" y="20" font-size="20" fill="#000" textLength="119" lengthAdjust="spacingAndGlyphs">XAUUSD,M15</text><text x="158.4" y="20" font-size="20" fill="#000" textLength="66" lengthAdjust="spacingAndGlyphs">3651.78</text><text x="230.8" y="20" font-size="20" fill="#000" textLength="66" lengthAdjust="spacingAndGlyphs">3652.30</text><text x="302.6" y="20" font-size="20" fill="#000" textLength="66" lengthAdjust="spacingAndGlyphs">3649.30</text><text x="374.4" y="20" font-size="20" fill="#000" textLength="66" lengthAdjust="spacingAndGlyphs">3649.81</text><text x="4.5" y="911" font-size="20" fill="#000" textLength="274" lengthAdjust="spacingAndGlyphs">Stoch(20,15,15) 85.6095 77.2905</text></g>
<path d="M4,10h14v2h-2v2h-2v2h-2v2h-2v-2h-2v-2h-2v-2h-2z" fill="#000"/>
<path d="M1332,0h14v2h-2v2h-2v2h-2v2h-2v-2h-2v-2h-2v-2h-2z" fill="#efefef"/>
</svg></body></html>
